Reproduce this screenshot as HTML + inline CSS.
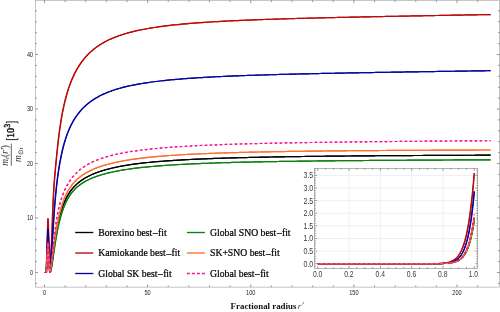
<!DOCTYPE html>
<html><head><meta charset="utf-8"><title>plot</title>
<style>html,body{margin:0;padding:0;background:#fff;}svg{display:block;will-change:transform;}body{font-family:"Liberation Sans",sans-serif;}</style>
</head><body>
<svg width="500" height="312" viewBox="0 0 500 312">
<rect x="0" y="0" width="500" height="312" fill="#ffffff"/>
<g fill="none" stroke-width="1.2" stroke-linejoin="round" stroke-linecap="butt">
<g stroke="#000000"><path d="M44.50,272.50 L46.30,272.50 L47.90,245.50 L48.10,245.50 L49.80,272.50 L49.90,272.50 L50.00,272.47 L50.10,272.34 L50.20,272.15 L50.30,271.90 L50.40,271.60 L50.50,271.26 L50.60,270.87 L50.70,270.45 L50.80,269.98 L50.90,269.49 L51.00,268.97 L51.10,268.42 L51.20,267.84 L51.30,267.25 L51.40,266.63 L51.50,265.99 L51.60,265.34 L51.70,264.68 L51.80,264.00 L51.90,263.31 L52.00,262.61 L52.10,261.90 L52.20,261.19 L52.30,260.46 L52.40,259.74 L52.50,259.00 L52.60,258.27 L52.70,257.53 L52.80,256.78 L52.90,256.04 L53.00,255.30 L53.10,254.55 L53.20,253.81 L53.30,253.07 L53.40,252.32 L53.50,251.58 L53.60,250.85 L53.70,250.11 L53.80,249.38 L53.90,248.65 L54.00,247.92 L54.10,247.20 L54.20,246.49 L54.30,245.77 L54.40,245.06 L54.50,244.36 L54.60,243.66 L54.70,242.97 L54.80,242.28 L54.90,241.60 L55.00,240.93 L55.10,240.26 L55.20,239.59 L55.30,238.93 L55.40,238.28 L55.50,237.64 L55.60,237.00 L55.70,236.36 L55.80,235.74 L55.90,235.12 L56.00,234.51 L56.10,233.90 L56.20,233.30 L56.30,232.71 L56.40,232.12 L56.50,231.54 L56.60,230.97 L56.70,230.41 L56.80,229.85 L56.90,229.30 L57.00,228.75 L57.10,228.21 L57.20,227.68 L57.30,227.16 L57.40,226.64 L57.50,226.13 L57.60,225.63 L57.70,225.13 L57.80,224.64 L57.90,224.16 L58.00,223.68 L58.10,223.21 L58.20,222.74 L58.30,222.28 L58.40,221.83 L58.50,221.38 L58.60,220.93 L58.70,220.49 L58.80,220.06 L58.90,219.63 L59.00,219.21 L59.10,218.79 L59.20,218.38 L59.30,217.97 L59.40,217.57 L59.50,217.17 L59.60,216.78 L59.70,216.39 L59.80,216.01 L59.90,215.63 L60.00,215.25 L60.00,215.25 L60.50,213.44 L61.00,211.72 L61.50,210.10 L62.00,208.56 L62.50,207.10 L63.00,205.71 L63.50,204.39 L64.00,203.14 L64.50,201.95 L65.00,200.81 L65.50,199.73 L66.00,198.69 L66.50,197.70 L67.00,196.76 L67.50,195.86 L68.00,194.99 L68.50,194.16 L69.00,193.36 L69.50,192.59 L70.00,191.86 L70.50,191.15 L71.00,190.47 L71.50,189.81 L72.00,189.18 L72.50,188.56 L73.00,187.97 L73.50,187.40 L74.00,186.85 L74.50,186.32 L75.00,185.80 L75.50,185.30 L76.00,184.82 L76.50,184.35 L77.00,183.90 L77.50,183.45 L78.00,183.03 L78.50,182.61 L79.00,182.20 L79.50,181.81 L80.00,181.43 L80.50,181.05 L81.00,180.69 L81.50,180.34 L82.00,179.99 L82.50,179.66 L83.00,179.33 L83.50,179.01 L84.00,178.70 L84.50,178.39 L85.00,178.09 L85.50,177.80 L86.00,177.52 L86.50,177.24 L87.00,176.97 L87.50,176.70 L88.00,176.44 L88.50,176.19 L89.00,175.93 L89.50,175.69 L90.00,175.45 L90.50,175.21 L91.00,174.98 L91.50,174.75 L92.00,174.53 L92.50,174.31 L93.00,174.10 L93.50,173.89 L94.00,173.68 L94.50,173.48 L95.00,173.28 L95.50,173.08 L96.00,172.89 L96.50,172.70 L97.00,172.51 L97.50,172.33 L98.00,172.15 L98.50,171.97 L99.00,171.80 L99.50,171.63 L100.00,171.46 L100.50,171.29 L101.00,171.13 L101.50,170.97 L102.00,170.81 L102.50,170.65 L103.00,170.50 L103.50,170.35 L104.00,170.20 L104.50,170.06 L105.00,169.91 L105.50,169.77 L106.00,169.63 L106.50,169.49 L107.00,169.36 L107.50,169.22 L108.00,169.09 L108.50,168.96 L109.00,168.83 L109.50,168.71 L110.00,168.58 L110.50,168.46 L111.00,168.34 L111.50,168.22 L112.00,168.10 L112.50,167.99 L113.00,167.87 L113.50,167.76 L114.00,167.65 L114.50,167.54 L115.00,167.43 L115.50,167.32 L116.00,167.22 L116.50,167.11 L117.00,167.01 L117.50,166.91 L118.00,166.81 L118.50,166.71 L119.00,166.61 L119.50,166.51 L120.00,166.42 L122.00,166.05 L124.00,165.70 L126.00,165.36 L128.00,165.04 L130.00,164.74 L132.00,164.45 L134.00,164.17 L136.00,163.90 L138.00,163.65 L140.00,163.40 L142.00,163.17 L144.00,162.94 L146.00,162.72 L148.00,162.52 L150.00,162.32 L152.00,162.12 L154.00,161.94 L156.00,161.76 L158.00,161.59 L160.00,161.42 L162.00,161.26 L164.00,161.10 L166.00,160.95 L168.00,160.81 L170.00,160.67 L172.00,160.53 L174.00,160.40 L176.00,160.28 L178.00,160.15 L180.00,160.04 L182.00,159.92 L184.00,159.81 L186.00,159.70 L188.00,159.60 L190.00,159.49 L192.00,159.39 L194.00,159.30 L196.00,159.21 L198.00,159.12 L200.00,159.03 L202.00,158.94 L204.00,158.86 L206.00,158.78 L208.00,158.70 L210.00,158.62 L212.00,158.55 L214.00,158.47 L216.00,158.40 L218.00,158.34 L220.00,158.27 L222.00,158.20 L224.00,158.14 L226.00,158.08 L228.00,158.02 L230.00,157.96 L232.00,157.90 L234.00,157.84 L236.00,157.79 L238.00,157.73 L240.00,157.68 L242.00,157.63 L244.00,157.58 L246.00,157.53 L248.00,157.48 L250.00,157.44 L252.00,157.39 L254.00,157.35 L256.00,157.30 L258.00,157.26 L260.00,157.22 L262.00,157.18 L264.00,157.14 L266.00,157.10 L268.00,157.06 L270.00,157.02 L272.00,156.99 L274.00,156.95 L276.00,156.92 L278.00,156.88 L280.00,156.85 L282.00,156.81 L284.00,156.78 L286.00,156.75 L288.00,156.72 L290.00,156.69 L292.00,156.66 L294.00,156.63 L296.00,156.60 L298.00,156.57 L300.00,156.54 L302.00,156.52 L304.00,156.49 L306.00,156.46 L308.00,156.44 L310.00,156.41 L312.00,156.39 L314.00,156.36 L316.00,156.34 L318.00,156.31 L320.00,156.29 L322.00,156.27 L324.00,156.25 L326.00,156.22 L328.00,156.20 L330.00,156.18 L332.00,156.16 L334.00,156.14 L336.00,156.12 L338.00,156.10 L340.00,156.08 L342.00,156.06 L344.00,156.04 L346.00,156.02 L348.00,156.00 L350.00,155.99 L352.00,155.97 L354.00,155.95 L356.00,155.93 L358.00,155.92 L360.00,155.90 L362.00,155.88 L364.00,155.87 L366.00,155.85 L368.00,155.83 L370.00,155.82 L372.00,155.80 L374.00,155.79 L376.00,155.77 L378.00,155.76 L380.00,155.74 L382.00,155.73 L384.00,155.72 L386.00,155.70 L388.00,155.69 L390.00,155.67 L392.00,155.66 L394.00,155.65 L396.00,155.63 L398.00,155.62 L400.00,155.61 L402.00,155.60 L404.00,155.58 L406.00,155.57 L408.00,155.56 L410.00,155.55 L412.00,155.54 L414.00,155.52 L416.00,155.51 L418.00,155.50 L420.00,155.49 L422.00,155.48 L424.00,155.47 L426.00,155.46 L428.00,155.45 L430.00,155.44 L432.00,155.43 L434.00,155.41 L436.00,155.40 L438.00,155.39 L440.00,155.38 L442.00,155.37 L444.00,155.36 L446.00,155.35 L448.00,155.34 L450.00,155.34 L452.00,155.33 L454.00,155.32 L456.00,155.31 L458.00,155.30 L460.00,155.29 L462.00,155.28 L464.00,155.27 L466.00,155.26 L468.00,155.25 L470.00,155.24 L472.00,155.24 L474.00,155.23 L476.00,155.22 L478.00,155.21 L480.00,155.20 L482.00,155.19 L484.00,155.19 L486.00,155.18 L488.00,155.17 L490.00,155.16 L490.60,155.16" transform="translate(-0.17,0)"/><path d="M44.50,272.50 L46.30,272.50 L47.90,245.50 L48.10,245.50 L49.80,272.50 L49.90,272.50 L50.00,272.47 L50.10,272.34 L50.20,272.15 L50.30,271.90 L50.40,271.60 L50.50,271.26 L50.60,270.87 L50.70,270.45 L50.80,269.98 L50.90,269.49 L51.00,268.97 L51.10,268.42 L51.20,267.84 L51.30,267.25 L51.40,266.63 L51.50,265.99 L51.60,265.34 L51.70,264.68 L51.80,264.00 L51.90,263.31 L52.00,262.61 L52.10,261.90 L52.20,261.19 L52.30,260.46 L52.40,259.74 L52.50,259.00 L52.60,258.27 L52.70,257.53 L52.80,256.78 L52.90,256.04 L53.00,255.30 L53.10,254.55 L53.20,253.81 L53.30,253.07 L53.40,252.32 L53.50,251.58 L53.60,250.85 L53.70,250.11 L53.80,249.38 L53.90,248.65 L54.00,247.92 L54.10,247.20 L54.20,246.49 L54.30,245.77 L54.40,245.06 L54.50,244.36 L54.60,243.66 L54.70,242.97 L54.80,242.28 L54.90,241.60 L55.00,240.93 L55.10,240.26 L55.20,239.59 L55.30,238.93 L55.40,238.28 L55.50,237.64 L55.60,237.00 L55.70,236.36 L55.80,235.74 L55.90,235.12 L56.00,234.51 L56.10,233.90 L56.20,233.30 L56.30,232.71 L56.40,232.12 L56.50,231.54 L56.60,230.97 L56.70,230.41 L56.80,229.85 L56.90,229.30 L57.00,228.75 L57.10,228.21 L57.20,227.68 L57.30,227.16 L57.40,226.64 L57.50,226.13 L57.60,225.63 L57.70,225.13 L57.80,224.64 L57.90,224.16 L58.00,223.68 L58.10,223.21 L58.20,222.74 L58.30,222.28 L58.40,221.83 L58.50,221.38 L58.60,220.93 L58.70,220.49 L58.80,220.06 L58.90,219.63 L59.00,219.21 L59.10,218.79 L59.20,218.38 L59.30,217.97 L59.40,217.57 L59.50,217.17 L59.60,216.78 L59.70,216.39 L59.80,216.01 L59.90,215.63 L60.00,215.25 L60.00,215.25 L60.50,213.44 L61.00,211.72 L61.50,210.10 L62.00,208.56 L62.50,207.10 L63.00,205.71 L63.50,204.39 L64.00,203.14 L64.50,201.95 L65.00,200.81 L65.50,199.73 L66.00,198.69 L66.50,197.70 L67.00,196.76 L67.50,195.86 L68.00,194.99 L68.50,194.16 L69.00,193.36 L69.50,192.59 L70.00,191.86 L70.50,191.15 L71.00,190.47 L71.50,189.81 L72.00,189.18 L72.50,188.56 L73.00,187.97 L73.50,187.40 L74.00,186.85 L74.50,186.32 L75.00,185.80 L75.50,185.30 L76.00,184.82 L76.50,184.35 L77.00,183.90 L77.50,183.45 L78.00,183.03 L78.50,182.61 L79.00,182.20 L79.50,181.81 L80.00,181.43 L80.50,181.05 L81.00,180.69 L81.50,180.34 L82.00,179.99 L82.50,179.66 L83.00,179.33 L83.50,179.01 L84.00,178.70 L84.50,178.39 L85.00,178.09 L85.50,177.80 L86.00,177.52 L86.50,177.24 L87.00,176.97 L87.50,176.70 L88.00,176.44 L88.50,176.19 L89.00,175.93 L89.50,175.69 L90.00,175.45 L90.50,175.21 L91.00,174.98 L91.50,174.75 L92.00,174.53 L92.50,174.31 L93.00,174.10 L93.50,173.89 L94.00,173.68 L94.50,173.48 L95.00,173.28 L95.50,173.08 L96.00,172.89 L96.50,172.70 L97.00,172.51 L97.50,172.33 L98.00,172.15 L98.50,171.97 L99.00,171.80 L99.50,171.63 L100.00,171.46 L100.50,171.29 L101.00,171.13 L101.50,170.97 L102.00,170.81 L102.50,170.65 L103.00,170.50 L103.50,170.35 L104.00,170.20 L104.50,170.06 L105.00,169.91 L105.50,169.77 L106.00,169.63 L106.50,169.49 L107.00,169.36 L107.50,169.22 L108.00,169.09 L108.50,168.96 L109.00,168.83 L109.50,168.71 L110.00,168.58 L110.50,168.46 L111.00,168.34 L111.50,168.22 L112.00,168.10 L112.50,167.99 L113.00,167.87 L113.50,167.76 L114.00,167.65 L114.50,167.54 L115.00,167.43 L115.50,167.32 L116.00,167.22 L116.50,167.11 L117.00,167.01 L117.50,166.91 L118.00,166.81 L118.50,166.71 L119.00,166.61 L119.50,166.51 L120.00,166.42 L122.00,166.05 L124.00,165.70 L126.00,165.36 L128.00,165.04 L130.00,164.74 L132.00,164.45 L134.00,164.17 L136.00,163.90 L138.00,163.65 L140.00,163.40 L142.00,163.17 L144.00,162.94 L146.00,162.72 L148.00,162.52 L150.00,162.32 L152.00,162.12 L154.00,161.94 L156.00,161.76 L158.00,161.59 L160.00,161.42 L162.00,161.26 L164.00,161.10 L166.00,160.95 L168.00,160.81 L170.00,160.67 L172.00,160.53 L174.00,160.40 L176.00,160.28 L178.00,160.15 L180.00,160.04 L182.00,159.92 L184.00,159.81 L186.00,159.70 L188.00,159.60 L190.00,159.49 L192.00,159.39 L194.00,159.30 L196.00,159.21 L198.00,159.12 L200.00,159.03 L202.00,158.94 L204.00,158.86 L206.00,158.78 L208.00,158.70 L210.00,158.62 L212.00,158.55 L214.00,158.47 L216.00,158.40 L218.00,158.34 L220.00,158.27 L222.00,158.20 L224.00,158.14 L226.00,158.08 L228.00,158.02 L230.00,157.96 L232.00,157.90 L234.00,157.84 L236.00,157.79 L238.00,157.73 L240.00,157.68 L242.00,157.63 L244.00,157.58 L246.00,157.53 L248.00,157.48 L250.00,157.44 L252.00,157.39 L254.00,157.35 L256.00,157.30 L258.00,157.26 L260.00,157.22 L262.00,157.18 L264.00,157.14 L266.00,157.10 L268.00,157.06 L270.00,157.02 L272.00,156.99 L274.00,156.95 L276.00,156.92 L278.00,156.88 L280.00,156.85 L282.00,156.81 L284.00,156.78 L286.00,156.75 L288.00,156.72 L290.00,156.69 L292.00,156.66 L294.00,156.63 L296.00,156.60 L298.00,156.57 L300.00,156.54 L302.00,156.52 L304.00,156.49 L306.00,156.46 L308.00,156.44 L310.00,156.41 L312.00,156.39 L314.00,156.36 L316.00,156.34 L318.00,156.31 L320.00,156.29 L322.00,156.27 L324.00,156.25 L326.00,156.22 L328.00,156.20 L330.00,156.18 L332.00,156.16 L334.00,156.14 L336.00,156.12 L338.00,156.10 L340.00,156.08 L342.00,156.06 L344.00,156.04 L346.00,156.02 L348.00,156.00 L350.00,155.99 L352.00,155.97 L354.00,155.95 L356.00,155.93 L358.00,155.92 L360.00,155.90 L362.00,155.88 L364.00,155.87 L366.00,155.85 L368.00,155.83 L370.00,155.82 L372.00,155.80 L374.00,155.79 L376.00,155.77 L378.00,155.76 L380.00,155.74 L382.00,155.73 L384.00,155.72 L386.00,155.70 L388.00,155.69 L390.00,155.67 L392.00,155.66 L394.00,155.65 L396.00,155.63 L398.00,155.62 L400.00,155.61 L402.00,155.60 L404.00,155.58 L406.00,155.57 L408.00,155.56 L410.00,155.55 L412.00,155.54 L414.00,155.52 L416.00,155.51 L418.00,155.50 L420.00,155.49 L422.00,155.48 L424.00,155.47 L426.00,155.46 L428.00,155.45 L430.00,155.44 L432.00,155.43 L434.00,155.41 L436.00,155.40 L438.00,155.39 L440.00,155.38 L442.00,155.37 L444.00,155.36 L446.00,155.35 L448.00,155.34 L450.00,155.34 L452.00,155.33 L454.00,155.32 L456.00,155.31 L458.00,155.30 L460.00,155.29 L462.00,155.28 L464.00,155.27 L466.00,155.26 L468.00,155.25 L470.00,155.24 L472.00,155.24 L474.00,155.23 L476.00,155.22 L478.00,155.21 L480.00,155.20 L482.00,155.19 L484.00,155.19 L486.00,155.18 L488.00,155.17 L490.00,155.16 L490.60,155.16" transform="translate(0.17,0)"/></g>
<g stroke="#bc0a0a"><path d="M44.50,272.50 L46.30,272.50 L47.90,218.80 L48.10,218.80 L49.80,272.50 L49.90,270.17 L50.00,267.98 L50.10,265.90 L50.20,263.95 L50.30,262.09 L50.40,260.34 L50.50,258.67 L50.60,257.08 L50.70,255.56 L50.80,254.10 L50.90,252.71 L51.00,251.37 L51.10,250.03 L51.20,248.65 L51.30,247.19 L51.40,245.61 L51.50,243.89 L51.60,241.98 L51.70,239.87 L51.80,237.53 L51.90,234.95 L52.00,232.19 L52.10,229.29 L52.20,226.32 L52.30,223.32 L52.40,220.35 L52.50,217.44 L52.60,214.63 L52.70,211.95 L52.80,209.39 L52.90,206.97 L53.00,204.65 L53.10,202.44 L53.20,200.33 L53.30,198.31 L53.40,196.38 L53.50,194.53 L53.60,192.75 L53.70,191.04 L53.80,189.40 L53.90,187.82 L54.00,186.30 L54.10,184.82 L54.20,183.40 L54.30,182.02 L54.40,180.68 L54.50,179.38 L54.60,178.11 L54.70,176.87 L54.80,175.66 L54.90,174.48 L55.00,173.32 L55.10,172.19 L55.20,171.07 L55.30,169.97 L55.40,168.88 L55.50,167.81 L55.60,166.74 L55.70,165.69 L55.80,164.64 L55.90,163.60 L56.00,162.57 L56.10,161.54 L56.20,160.51 L56.30,159.48 L56.40,158.47 L56.50,157.45 L56.60,156.44 L56.70,155.44 L56.80,154.45 L56.90,153.46 L57.00,152.48 L57.10,151.51 L57.20,150.54 L57.30,149.58 L57.40,148.64 L57.50,147.70 L57.60,146.77 L57.70,145.84 L57.80,144.93 L57.90,144.03 L58.00,143.14 L58.10,142.26 L58.20,141.39 L58.30,140.52 L58.40,139.67 L58.50,138.83 L58.60,138.00 L58.70,137.19 L58.80,136.38 L58.90,135.58 L59.00,134.79 L59.10,134.02 L59.20,133.25 L59.30,132.49 L59.40,131.75 L59.50,131.01 L59.60,130.28 L59.70,129.56 L59.80,128.85 L59.90,128.15 L60.00,127.45 L60.00,127.45 L60.50,124.11 L61.00,120.95 L61.50,117.97 L62.00,115.15 L62.50,112.48 L63.00,109.95 L63.50,107.54 L64.00,105.24 L64.50,103.06 L65.00,100.97 L65.50,98.98 L66.00,97.08 L66.50,95.25 L67.00,93.51 L67.50,91.83 L68.00,90.22 L68.50,88.67 L69.00,87.18 L69.50,85.75 L70.00,84.37 L70.50,83.04 L71.00,81.75 L71.50,80.51 L72.00,79.31 L72.50,78.15 L73.00,77.02 L73.50,75.93 L74.00,74.87 L74.50,73.85 L75.00,72.85 L75.50,71.89 L76.00,70.95 L76.50,70.04 L77.00,69.15 L77.50,68.29 L78.00,67.45 L78.50,66.64 L79.00,65.84 L79.50,65.07 L80.00,64.31 L80.50,63.58 L81.00,62.86 L81.50,62.16 L82.00,61.48 L82.50,60.82 L83.00,60.17 L83.50,59.54 L84.00,58.92 L84.50,58.31 L85.00,57.72 L85.50,57.15 L86.00,56.58 L86.50,56.03 L87.00,55.49 L87.50,54.97 L88.00,54.45 L88.50,53.95 L89.00,53.45 L89.50,52.97 L90.00,52.50 L90.50,52.03 L91.00,51.58 L91.50,51.14 L92.00,50.70 L92.50,50.27 L93.00,49.85 L93.50,49.44 L94.00,49.04 L94.50,48.65 L95.00,48.26 L95.50,47.88 L96.00,47.51 L96.50,47.14 L97.00,46.78 L97.50,46.43 L98.00,46.09 L98.50,45.75 L99.00,45.41 L99.50,45.09 L100.00,44.76 L100.50,44.45 L101.00,44.14 L101.50,43.83 L102.00,43.53 L102.50,43.24 L103.00,42.95 L103.50,42.66 L104.00,42.38 L104.50,42.11 L105.00,41.84 L105.50,41.57 L106.00,41.31 L106.50,41.05 L107.00,40.80 L107.50,40.55 L108.00,40.30 L108.50,40.06 L109.00,39.82 L109.50,39.58 L110.00,39.35 L110.50,39.13 L111.00,38.90 L111.50,38.68 L112.00,38.46 L112.50,38.25 L113.00,38.04 L113.50,37.83 L114.00,37.63 L114.50,37.43 L115.00,37.23 L115.50,37.03 L116.00,36.84 L116.50,36.65 L117.00,36.46 L117.50,36.28 L118.00,36.09 L118.50,35.91 L119.00,35.74 L119.50,35.56 L120.00,35.39 L122.00,34.72 L124.00,34.09 L126.00,33.49 L128.00,32.92 L130.00,32.38 L132.00,31.87 L134.00,31.37 L136.00,30.91 L138.00,30.46 L140.00,30.03 L142.00,29.63 L144.00,29.24 L146.00,28.86 L148.00,28.51 L150.00,28.16 L152.00,27.83 L154.00,27.52 L156.00,27.22 L158.00,26.92 L160.00,26.64 L162.00,26.37 L164.00,26.11 L166.00,25.86 L168.00,25.62 L170.00,25.39 L172.00,25.16 L174.00,24.95 L176.00,24.74 L178.00,24.53 L180.00,24.34 L182.00,24.15 L184.00,23.96 L186.00,23.78 L188.00,23.61 L190.00,23.44 L192.00,23.28 L194.00,23.12 L196.00,22.97 L198.00,22.82 L200.00,22.68 L202.00,22.54 L204.00,22.40 L206.00,22.27 L208.00,22.14 L210.00,22.01 L212.00,21.89 L214.00,21.77 L216.00,21.65 L218.00,21.54 L220.00,21.43 L222.00,21.32 L224.00,21.21 L226.00,21.11 L228.00,21.01 L230.00,20.91 L232.00,20.81 L234.00,20.72 L236.00,20.63 L238.00,20.54 L240.00,20.45 L242.00,20.36 L244.00,20.28 L246.00,20.19 L248.00,20.11 L250.00,20.03 L252.00,19.95 L254.00,19.88 L256.00,19.80 L258.00,19.73 L260.00,19.65 L262.00,19.58 L264.00,19.51 L266.00,19.44 L268.00,19.37 L270.00,19.31 L272.00,19.24 L274.00,19.18 L276.00,19.11 L278.00,19.05 L280.00,18.99 L282.00,18.93 L284.00,18.86 L286.00,18.81 L288.00,18.75 L290.00,18.69 L292.00,18.63 L294.00,18.57 L296.00,18.52 L298.00,18.46 L300.00,18.41 L302.00,18.35 L304.00,18.30 L306.00,18.25 L308.00,18.20 L310.00,18.15 L312.00,18.09 L314.00,18.04 L316.00,17.99 L318.00,17.94 L320.00,17.90 L322.00,17.85 L324.00,17.80 L326.00,17.75 L328.00,17.70 L330.00,17.66 L332.00,17.61 L334.00,17.56 L336.00,17.52 L338.00,17.47 L340.00,17.43 L342.00,17.38 L344.00,17.34 L346.00,17.30 L348.00,17.25 L350.00,17.21 L352.00,17.16 L354.00,17.12 L356.00,17.08 L358.00,17.04 L360.00,16.99 L362.00,16.95 L364.00,16.91 L366.00,16.87 L368.00,16.83 L370.00,16.79 L372.00,16.75 L374.00,16.71 L376.00,16.67 L378.00,16.63 L380.00,16.59 L382.00,16.55 L384.00,16.51 L386.00,16.47 L388.00,16.43 L390.00,16.39 L392.00,16.35 L394.00,16.31 L396.00,16.27 L398.00,16.23 L400.00,16.19 L402.00,16.16 L404.00,16.12 L406.00,16.08 L408.00,16.04 L410.00,16.00 L412.00,15.97 L414.00,15.93 L416.00,15.89 L418.00,15.85 L420.00,15.81 L422.00,15.78 L424.00,15.74 L426.00,15.70 L428.00,15.67 L430.00,15.63 L432.00,15.59 L434.00,15.55 L436.00,15.52 L438.00,15.48 L440.00,15.44 L442.00,15.41 L444.00,15.37 L446.00,15.33 L448.00,15.30 L450.00,15.26 L452.00,15.22 L454.00,15.19 L456.00,15.15 L458.00,15.11 L460.00,15.08 L462.00,15.04 L464.00,15.01 L466.00,14.97 L468.00,14.93 L470.00,14.90 L472.00,14.86 L474.00,14.83 L476.00,14.79 L478.00,14.75 L480.00,14.72 L482.00,14.68 L484.00,14.64 L486.00,14.61 L488.00,14.57 L490.00,14.54 L490.60,14.53" transform="translate(-0.17,0)"/><path d="M44.50,272.50 L46.30,272.50 L47.90,218.80 L48.10,218.80 L49.80,272.50 L49.90,270.17 L50.00,267.98 L50.10,265.90 L50.20,263.95 L50.30,262.09 L50.40,260.34 L50.50,258.67 L50.60,257.08 L50.70,255.56 L50.80,254.10 L50.90,252.71 L51.00,251.37 L51.10,250.03 L51.20,248.65 L51.30,247.19 L51.40,245.61 L51.50,243.89 L51.60,241.98 L51.70,239.87 L51.80,237.53 L51.90,234.95 L52.00,232.19 L52.10,229.29 L52.20,226.32 L52.30,223.32 L52.40,220.35 L52.50,217.44 L52.60,214.63 L52.70,211.95 L52.80,209.39 L52.90,206.97 L53.00,204.65 L53.10,202.44 L53.20,200.33 L53.30,198.31 L53.40,196.38 L53.50,194.53 L53.60,192.75 L53.70,191.04 L53.80,189.40 L53.90,187.82 L54.00,186.30 L54.10,184.82 L54.20,183.40 L54.30,182.02 L54.40,180.68 L54.50,179.38 L54.60,178.11 L54.70,176.87 L54.80,175.66 L54.90,174.48 L55.00,173.32 L55.10,172.19 L55.20,171.07 L55.30,169.97 L55.40,168.88 L55.50,167.81 L55.60,166.74 L55.70,165.69 L55.80,164.64 L55.90,163.60 L56.00,162.57 L56.10,161.54 L56.20,160.51 L56.30,159.48 L56.40,158.47 L56.50,157.45 L56.60,156.44 L56.70,155.44 L56.80,154.45 L56.90,153.46 L57.00,152.48 L57.10,151.51 L57.20,150.54 L57.30,149.58 L57.40,148.64 L57.50,147.70 L57.60,146.77 L57.70,145.84 L57.80,144.93 L57.90,144.03 L58.00,143.14 L58.10,142.26 L58.20,141.39 L58.30,140.52 L58.40,139.67 L58.50,138.83 L58.60,138.00 L58.70,137.19 L58.80,136.38 L58.90,135.58 L59.00,134.79 L59.10,134.02 L59.20,133.25 L59.30,132.49 L59.40,131.75 L59.50,131.01 L59.60,130.28 L59.70,129.56 L59.80,128.85 L59.90,128.15 L60.00,127.45 L60.00,127.45 L60.50,124.11 L61.00,120.95 L61.50,117.97 L62.00,115.15 L62.50,112.48 L63.00,109.95 L63.50,107.54 L64.00,105.24 L64.50,103.06 L65.00,100.97 L65.50,98.98 L66.00,97.08 L66.50,95.25 L67.00,93.51 L67.50,91.83 L68.00,90.22 L68.50,88.67 L69.00,87.18 L69.50,85.75 L70.00,84.37 L70.50,83.04 L71.00,81.75 L71.50,80.51 L72.00,79.31 L72.50,78.15 L73.00,77.02 L73.50,75.93 L74.00,74.87 L74.50,73.85 L75.00,72.85 L75.50,71.89 L76.00,70.95 L76.50,70.04 L77.00,69.15 L77.50,68.29 L78.00,67.45 L78.50,66.64 L79.00,65.84 L79.50,65.07 L80.00,64.31 L80.50,63.58 L81.00,62.86 L81.50,62.16 L82.00,61.48 L82.50,60.82 L83.00,60.17 L83.50,59.54 L84.00,58.92 L84.50,58.31 L85.00,57.72 L85.50,57.15 L86.00,56.58 L86.50,56.03 L87.00,55.49 L87.50,54.97 L88.00,54.45 L88.50,53.95 L89.00,53.45 L89.50,52.97 L90.00,52.50 L90.50,52.03 L91.00,51.58 L91.50,51.14 L92.00,50.70 L92.50,50.27 L93.00,49.85 L93.50,49.44 L94.00,49.04 L94.50,48.65 L95.00,48.26 L95.50,47.88 L96.00,47.51 L96.50,47.14 L97.00,46.78 L97.50,46.43 L98.00,46.09 L98.50,45.75 L99.00,45.41 L99.50,45.09 L100.00,44.76 L100.50,44.45 L101.00,44.14 L101.50,43.83 L102.00,43.53 L102.50,43.24 L103.00,42.95 L103.50,42.66 L104.00,42.38 L104.50,42.11 L105.00,41.84 L105.50,41.57 L106.00,41.31 L106.50,41.05 L107.00,40.80 L107.50,40.55 L108.00,40.30 L108.50,40.06 L109.00,39.82 L109.50,39.58 L110.00,39.35 L110.50,39.13 L111.00,38.90 L111.50,38.68 L112.00,38.46 L112.50,38.25 L113.00,38.04 L113.50,37.83 L114.00,37.63 L114.50,37.43 L115.00,37.23 L115.50,37.03 L116.00,36.84 L116.50,36.65 L117.00,36.46 L117.50,36.28 L118.00,36.09 L118.50,35.91 L119.00,35.74 L119.50,35.56 L120.00,35.39 L122.00,34.72 L124.00,34.09 L126.00,33.49 L128.00,32.92 L130.00,32.38 L132.00,31.87 L134.00,31.37 L136.00,30.91 L138.00,30.46 L140.00,30.03 L142.00,29.63 L144.00,29.24 L146.00,28.86 L148.00,28.51 L150.00,28.16 L152.00,27.83 L154.00,27.52 L156.00,27.22 L158.00,26.92 L160.00,26.64 L162.00,26.37 L164.00,26.11 L166.00,25.86 L168.00,25.62 L170.00,25.39 L172.00,25.16 L174.00,24.95 L176.00,24.74 L178.00,24.53 L180.00,24.34 L182.00,24.15 L184.00,23.96 L186.00,23.78 L188.00,23.61 L190.00,23.44 L192.00,23.28 L194.00,23.12 L196.00,22.97 L198.00,22.82 L200.00,22.68 L202.00,22.54 L204.00,22.40 L206.00,22.27 L208.00,22.14 L210.00,22.01 L212.00,21.89 L214.00,21.77 L216.00,21.65 L218.00,21.54 L220.00,21.43 L222.00,21.32 L224.00,21.21 L226.00,21.11 L228.00,21.01 L230.00,20.91 L232.00,20.81 L234.00,20.72 L236.00,20.63 L238.00,20.54 L240.00,20.45 L242.00,20.36 L244.00,20.28 L246.00,20.19 L248.00,20.11 L250.00,20.03 L252.00,19.95 L254.00,19.88 L256.00,19.80 L258.00,19.73 L260.00,19.65 L262.00,19.58 L264.00,19.51 L266.00,19.44 L268.00,19.37 L270.00,19.31 L272.00,19.24 L274.00,19.18 L276.00,19.11 L278.00,19.05 L280.00,18.99 L282.00,18.93 L284.00,18.86 L286.00,18.81 L288.00,18.75 L290.00,18.69 L292.00,18.63 L294.00,18.57 L296.00,18.52 L298.00,18.46 L300.00,18.41 L302.00,18.35 L304.00,18.30 L306.00,18.25 L308.00,18.20 L310.00,18.15 L312.00,18.09 L314.00,18.04 L316.00,17.99 L318.00,17.94 L320.00,17.90 L322.00,17.85 L324.00,17.80 L326.00,17.75 L328.00,17.70 L330.00,17.66 L332.00,17.61 L334.00,17.56 L336.00,17.52 L338.00,17.47 L340.00,17.43 L342.00,17.38 L344.00,17.34 L346.00,17.30 L348.00,17.25 L350.00,17.21 L352.00,17.16 L354.00,17.12 L356.00,17.08 L358.00,17.04 L360.00,16.99 L362.00,16.95 L364.00,16.91 L366.00,16.87 L368.00,16.83 L370.00,16.79 L372.00,16.75 L374.00,16.71 L376.00,16.67 L378.00,16.63 L380.00,16.59 L382.00,16.55 L384.00,16.51 L386.00,16.47 L388.00,16.43 L390.00,16.39 L392.00,16.35 L394.00,16.31 L396.00,16.27 L398.00,16.23 L400.00,16.19 L402.00,16.16 L404.00,16.12 L406.00,16.08 L408.00,16.04 L410.00,16.00 L412.00,15.97 L414.00,15.93 L416.00,15.89 L418.00,15.85 L420.00,15.81 L422.00,15.78 L424.00,15.74 L426.00,15.70 L428.00,15.67 L430.00,15.63 L432.00,15.59 L434.00,15.55 L436.00,15.52 L438.00,15.48 L440.00,15.44 L442.00,15.41 L444.00,15.37 L446.00,15.33 L448.00,15.30 L450.00,15.26 L452.00,15.22 L454.00,15.19 L456.00,15.15 L458.00,15.11 L460.00,15.08 L462.00,15.04 L464.00,15.01 L466.00,14.97 L468.00,14.93 L470.00,14.90 L472.00,14.86 L474.00,14.83 L476.00,14.79 L478.00,14.75 L480.00,14.72 L482.00,14.68 L484.00,14.64 L486.00,14.61 L488.00,14.57 L490.00,14.54 L490.60,14.53" transform="translate(0.17,0)"/></g>
<g stroke="#06069e"><path d="M44.50,272.50 L46.30,272.50 L47.90,229.00 L48.10,229.00 L49.80,272.50 L49.90,271.13 L50.00,269.81 L50.10,268.55 L50.20,267.33 L50.30,266.14 L50.40,264.98 L50.50,263.83 L50.60,262.70 L50.70,261.57 L50.80,260.45 L50.90,259.32 L51.00,258.19 L51.10,257.05 L51.20,255.90 L51.30,254.73 L51.40,253.54 L51.50,252.34 L51.60,251.11 L51.70,249.85 L51.80,248.58 L51.90,247.27 L52.00,245.94 L52.10,244.57 L52.20,243.18 L52.30,241.75 L52.40,240.29 L52.50,238.80 L52.60,237.28 L52.70,235.72 L52.80,234.14 L52.90,232.54 L53.00,230.93 L53.10,229.31 L53.20,227.68 L53.30,226.07 L53.40,224.46 L53.50,222.87 L53.60,221.29 L53.70,219.74 L53.80,218.21 L53.90,216.71 L54.00,215.24 L54.10,213.81 L54.20,212.40 L54.30,211.02 L54.40,209.68 L54.50,208.35 L54.60,207.06 L54.70,205.79 L54.80,204.55 L54.90,203.33 L55.00,202.13 L55.10,200.96 L55.20,199.81 L55.30,198.68 L55.40,197.58 L55.50,196.49 L55.60,195.42 L55.70,194.37 L55.80,193.34 L55.90,192.33 L56.00,191.34 L56.10,190.36 L56.20,189.40 L56.30,188.46 L56.40,187.53 L56.50,186.62 L56.60,185.72 L56.70,184.84 L56.80,183.97 L56.90,183.12 L57.00,182.27 L57.10,181.45 L57.20,180.63 L57.30,179.83 L57.40,179.04 L57.50,178.26 L57.60,177.50 L57.70,176.74 L57.80,176.00 L57.90,175.26 L58.00,174.54 L58.10,173.83 L58.20,173.13 L58.30,172.44 L58.40,171.75 L58.50,171.08 L58.60,170.42 L58.70,169.76 L58.80,169.12 L58.90,168.48 L59.00,167.85 L59.10,167.23 L59.20,166.62 L59.30,166.01 L59.40,165.41 L59.50,164.82 L59.60,164.24 L59.70,163.67 L59.80,163.10 L59.90,162.54 L60.00,161.98 L60.00,161.98 L60.50,159.31 L61.00,156.78 L61.50,154.39 L62.00,152.13 L62.50,149.99 L63.00,147.96 L63.50,146.02 L64.00,144.18 L64.50,142.43 L65.00,140.75 L65.50,139.15 L66.00,137.62 L66.50,136.16 L67.00,134.75 L67.50,133.41 L68.00,132.11 L68.50,130.87 L69.00,129.68 L69.50,128.53 L70.00,127.42 L70.50,126.35 L71.00,125.32 L71.50,124.32 L72.00,123.36 L72.50,122.44 L73.00,121.54 L73.50,120.67 L74.00,119.82 L74.50,119.01 L75.00,118.22 L75.50,117.45 L76.00,116.70 L76.50,115.98 L77.00,115.27 L77.50,114.59 L78.00,113.92 L78.50,113.28 L79.00,112.65 L79.50,112.03 L80.00,111.43 L80.50,110.85 L81.00,110.28 L81.50,109.72 L82.00,109.18 L82.50,108.65 L83.00,108.14 L83.50,107.63 L84.00,107.14 L84.50,106.66 L85.00,106.19 L85.50,105.73 L86.00,105.28 L86.50,104.84 L87.00,104.41 L87.50,103.99 L88.00,103.58 L88.50,103.17 L89.00,102.78 L89.50,102.39 L90.00,102.01 L90.50,101.64 L91.00,101.28 L91.50,100.92 L92.00,100.57 L92.50,100.23 L93.00,99.90 L93.50,99.57 L94.00,99.24 L94.50,98.93 L95.00,98.62 L95.50,98.31 L96.00,98.01 L96.50,97.72 L97.00,97.43 L97.50,97.15 L98.00,96.87 L98.50,96.60 L99.00,96.33 L99.50,96.07 L100.00,95.81 L100.50,95.55 L101.00,95.30 L101.50,95.06 L102.00,94.81 L102.50,94.58 L103.00,94.34 L103.50,94.11 L104.00,93.89 L104.50,93.66 L105.00,93.44 L105.50,93.23 L106.00,93.02 L106.50,92.81 L107.00,92.60 L107.50,92.40 L108.00,92.20 L108.50,92.01 L109.00,91.81 L109.50,91.62 L110.00,91.44 L110.50,91.25 L111.00,91.07 L111.50,90.89 L112.00,90.72 L112.50,90.54 L113.00,90.37 L113.50,90.20 L114.00,90.04 L114.50,89.87 L115.00,89.71 L115.50,89.55 L116.00,89.39 L116.50,89.24 L117.00,89.09 L117.50,88.94 L118.00,88.79 L118.50,88.64 L119.00,88.50 L119.50,88.35 L120.00,88.21 L122.00,87.67 L124.00,87.15 L126.00,86.66 L128.00,86.19 L130.00,85.75 L132.00,85.33 L134.00,84.92 L136.00,84.54 L138.00,84.17 L140.00,83.82 L142.00,83.48 L144.00,83.16 L146.00,82.85 L148.00,82.55 L150.00,82.27 L152.00,81.99 L154.00,81.73 L156.00,81.48 L158.00,81.24 L160.00,81.00 L162.00,80.77 L164.00,80.56 L166.00,80.35 L168.00,80.14 L170.00,79.95 L172.00,79.76 L174.00,79.58 L176.00,79.40 L178.00,79.23 L180.00,79.06 L182.00,78.90 L184.00,78.74 L186.00,78.59 L188.00,78.45 L190.00,78.30 L192.00,78.17 L194.00,78.03 L196.00,77.90 L198.00,77.77 L200.00,77.65 L202.00,77.53 L204.00,77.41 L206.00,77.30 L208.00,77.19 L210.00,77.08 L212.00,76.98 L214.00,76.87 L216.00,76.77 L218.00,76.68 L220.00,76.58 L222.00,76.49 L224.00,76.40 L226.00,76.31 L228.00,76.22 L230.00,76.13 L232.00,76.05 L234.00,75.97 L236.00,75.89 L238.00,75.81 L240.00,75.73 L242.00,75.66 L244.00,75.59 L246.00,75.51 L248.00,75.44 L250.00,75.37 L252.00,75.30 L254.00,75.24 L256.00,75.17 L258.00,75.11 L260.00,75.04 L262.00,74.98 L264.00,74.92 L266.00,74.86 L268.00,74.80 L270.00,74.74 L272.00,74.68 L274.00,74.63 L276.00,74.57 L278.00,74.52 L280.00,74.46 L282.00,74.41 L284.00,74.36 L286.00,74.30 L288.00,74.25 L290.00,74.20 L292.00,74.15 L294.00,74.10 L296.00,74.06 L298.00,74.01 L300.00,73.96 L302.00,73.91 L304.00,73.87 L306.00,73.82 L308.00,73.78 L310.00,73.73 L312.00,73.69 L314.00,73.64 L316.00,73.60 L318.00,73.56 L320.00,73.52 L322.00,73.47 L324.00,73.43 L326.00,73.39 L328.00,73.35 L330.00,73.31 L332.00,73.27 L334.00,73.23 L336.00,73.19 L338.00,73.15 L340.00,73.11 L342.00,73.07 L344.00,73.04 L346.00,73.00 L348.00,72.96 L350.00,72.92 L352.00,72.89 L354.00,72.85 L356.00,72.81 L358.00,72.78 L360.00,72.74 L362.00,72.70 L364.00,72.67 L366.00,72.63 L368.00,72.60 L370.00,72.56 L372.00,72.53 L374.00,72.49 L376.00,72.46 L378.00,72.43 L380.00,72.39 L382.00,72.36 L384.00,72.33 L386.00,72.29 L388.00,72.26 L390.00,72.23 L392.00,72.19 L394.00,72.16 L396.00,72.13 L398.00,72.09 L400.00,72.06 L402.00,72.03 L404.00,72.00 L406.00,71.97 L408.00,71.93 L410.00,71.90 L412.00,71.87 L414.00,71.84 L416.00,71.81 L418.00,71.78 L420.00,71.74 L422.00,71.71 L424.00,71.68 L426.00,71.65 L428.00,71.62 L430.00,71.59 L432.00,71.56 L434.00,71.53 L436.00,71.50 L438.00,71.47 L440.00,71.44 L442.00,71.41 L444.00,71.38 L446.00,71.35 L448.00,71.32 L450.00,71.29 L452.00,71.26 L454.00,71.23 L456.00,71.20 L458.00,71.17 L460.00,71.14 L462.00,71.11 L464.00,71.08 L466.00,71.05 L468.00,71.02 L470.00,70.99 L472.00,70.96 L474.00,70.93 L476.00,70.90 L478.00,70.87 L480.00,70.84 L482.00,70.81 L484.00,70.78 L486.00,70.75 L488.00,70.72 L490.00,70.70 L490.60,70.69" transform="translate(-0.17,0)"/><path d="M44.50,272.50 L46.30,272.50 L47.90,229.00 L48.10,229.00 L49.80,272.50 L49.90,271.13 L50.00,269.81 L50.10,268.55 L50.20,267.33 L50.30,266.14 L50.40,264.98 L50.50,263.83 L50.60,262.70 L50.70,261.57 L50.80,260.45 L50.90,259.32 L51.00,258.19 L51.10,257.05 L51.20,255.90 L51.30,254.73 L51.40,253.54 L51.50,252.34 L51.60,251.11 L51.70,249.85 L51.80,248.58 L51.90,247.27 L52.00,245.94 L52.10,244.57 L52.20,243.18 L52.30,241.75 L52.40,240.29 L52.50,238.80 L52.60,237.28 L52.70,235.72 L52.80,234.14 L52.90,232.54 L53.00,230.93 L53.10,229.31 L53.20,227.68 L53.30,226.07 L53.40,224.46 L53.50,222.87 L53.60,221.29 L53.70,219.74 L53.80,218.21 L53.90,216.71 L54.00,215.24 L54.10,213.81 L54.20,212.40 L54.30,211.02 L54.40,209.68 L54.50,208.35 L54.60,207.06 L54.70,205.79 L54.80,204.55 L54.90,203.33 L55.00,202.13 L55.10,200.96 L55.20,199.81 L55.30,198.68 L55.40,197.58 L55.50,196.49 L55.60,195.42 L55.70,194.37 L55.80,193.34 L55.90,192.33 L56.00,191.34 L56.10,190.36 L56.20,189.40 L56.30,188.46 L56.40,187.53 L56.50,186.62 L56.60,185.72 L56.70,184.84 L56.80,183.97 L56.90,183.12 L57.00,182.27 L57.10,181.45 L57.20,180.63 L57.30,179.83 L57.40,179.04 L57.50,178.26 L57.60,177.50 L57.70,176.74 L57.80,176.00 L57.90,175.26 L58.00,174.54 L58.10,173.83 L58.20,173.13 L58.30,172.44 L58.40,171.75 L58.50,171.08 L58.60,170.42 L58.70,169.76 L58.80,169.12 L58.90,168.48 L59.00,167.85 L59.10,167.23 L59.20,166.62 L59.30,166.01 L59.40,165.41 L59.50,164.82 L59.60,164.24 L59.70,163.67 L59.80,163.10 L59.90,162.54 L60.00,161.98 L60.00,161.98 L60.50,159.31 L61.00,156.78 L61.50,154.39 L62.00,152.13 L62.50,149.99 L63.00,147.96 L63.50,146.02 L64.00,144.18 L64.50,142.43 L65.00,140.75 L65.50,139.15 L66.00,137.62 L66.50,136.16 L67.00,134.75 L67.50,133.41 L68.00,132.11 L68.50,130.87 L69.00,129.68 L69.50,128.53 L70.00,127.42 L70.50,126.35 L71.00,125.32 L71.50,124.32 L72.00,123.36 L72.50,122.44 L73.00,121.54 L73.50,120.67 L74.00,119.82 L74.50,119.01 L75.00,118.22 L75.50,117.45 L76.00,116.70 L76.50,115.98 L77.00,115.27 L77.50,114.59 L78.00,113.92 L78.50,113.28 L79.00,112.65 L79.50,112.03 L80.00,111.43 L80.50,110.85 L81.00,110.28 L81.50,109.72 L82.00,109.18 L82.50,108.65 L83.00,108.14 L83.50,107.63 L84.00,107.14 L84.50,106.66 L85.00,106.19 L85.50,105.73 L86.00,105.28 L86.50,104.84 L87.00,104.41 L87.50,103.99 L88.00,103.58 L88.50,103.17 L89.00,102.78 L89.50,102.39 L90.00,102.01 L90.50,101.64 L91.00,101.28 L91.50,100.92 L92.00,100.57 L92.50,100.23 L93.00,99.90 L93.50,99.57 L94.00,99.24 L94.50,98.93 L95.00,98.62 L95.50,98.31 L96.00,98.01 L96.50,97.72 L97.00,97.43 L97.50,97.15 L98.00,96.87 L98.50,96.60 L99.00,96.33 L99.50,96.07 L100.00,95.81 L100.50,95.55 L101.00,95.30 L101.50,95.06 L102.00,94.81 L102.50,94.58 L103.00,94.34 L103.50,94.11 L104.00,93.89 L104.50,93.66 L105.00,93.44 L105.50,93.23 L106.00,93.02 L106.50,92.81 L107.00,92.60 L107.50,92.40 L108.00,92.20 L108.50,92.01 L109.00,91.81 L109.50,91.62 L110.00,91.44 L110.50,91.25 L111.00,91.07 L111.50,90.89 L112.00,90.72 L112.50,90.54 L113.00,90.37 L113.50,90.20 L114.00,90.04 L114.50,89.87 L115.00,89.71 L115.50,89.55 L116.00,89.39 L116.50,89.24 L117.00,89.09 L117.50,88.94 L118.00,88.79 L118.50,88.64 L119.00,88.50 L119.50,88.35 L120.00,88.21 L122.00,87.67 L124.00,87.15 L126.00,86.66 L128.00,86.19 L130.00,85.75 L132.00,85.33 L134.00,84.92 L136.00,84.54 L138.00,84.17 L140.00,83.82 L142.00,83.48 L144.00,83.16 L146.00,82.85 L148.00,82.55 L150.00,82.27 L152.00,81.99 L154.00,81.73 L156.00,81.48 L158.00,81.24 L160.00,81.00 L162.00,80.77 L164.00,80.56 L166.00,80.35 L168.00,80.14 L170.00,79.95 L172.00,79.76 L174.00,79.58 L176.00,79.40 L178.00,79.23 L180.00,79.06 L182.00,78.90 L184.00,78.74 L186.00,78.59 L188.00,78.45 L190.00,78.30 L192.00,78.17 L194.00,78.03 L196.00,77.90 L198.00,77.77 L200.00,77.65 L202.00,77.53 L204.00,77.41 L206.00,77.30 L208.00,77.19 L210.00,77.08 L212.00,76.98 L214.00,76.87 L216.00,76.77 L218.00,76.68 L220.00,76.58 L222.00,76.49 L224.00,76.40 L226.00,76.31 L228.00,76.22 L230.00,76.13 L232.00,76.05 L234.00,75.97 L236.00,75.89 L238.00,75.81 L240.00,75.73 L242.00,75.66 L244.00,75.59 L246.00,75.51 L248.00,75.44 L250.00,75.37 L252.00,75.30 L254.00,75.24 L256.00,75.17 L258.00,75.11 L260.00,75.04 L262.00,74.98 L264.00,74.92 L266.00,74.86 L268.00,74.80 L270.00,74.74 L272.00,74.68 L274.00,74.63 L276.00,74.57 L278.00,74.52 L280.00,74.46 L282.00,74.41 L284.00,74.36 L286.00,74.30 L288.00,74.25 L290.00,74.20 L292.00,74.15 L294.00,74.10 L296.00,74.06 L298.00,74.01 L300.00,73.96 L302.00,73.91 L304.00,73.87 L306.00,73.82 L308.00,73.78 L310.00,73.73 L312.00,73.69 L314.00,73.64 L316.00,73.60 L318.00,73.56 L320.00,73.52 L322.00,73.47 L324.00,73.43 L326.00,73.39 L328.00,73.35 L330.00,73.31 L332.00,73.27 L334.00,73.23 L336.00,73.19 L338.00,73.15 L340.00,73.11 L342.00,73.07 L344.00,73.04 L346.00,73.00 L348.00,72.96 L350.00,72.92 L352.00,72.89 L354.00,72.85 L356.00,72.81 L358.00,72.78 L360.00,72.74 L362.00,72.70 L364.00,72.67 L366.00,72.63 L368.00,72.60 L370.00,72.56 L372.00,72.53 L374.00,72.49 L376.00,72.46 L378.00,72.43 L380.00,72.39 L382.00,72.36 L384.00,72.33 L386.00,72.29 L388.00,72.26 L390.00,72.23 L392.00,72.19 L394.00,72.16 L396.00,72.13 L398.00,72.09 L400.00,72.06 L402.00,72.03 L404.00,72.00 L406.00,71.97 L408.00,71.93 L410.00,71.90 L412.00,71.87 L414.00,71.84 L416.00,71.81 L418.00,71.78 L420.00,71.74 L422.00,71.71 L424.00,71.68 L426.00,71.65 L428.00,71.62 L430.00,71.59 L432.00,71.56 L434.00,71.53 L436.00,71.50 L438.00,71.47 L440.00,71.44 L442.00,71.41 L444.00,71.38 L446.00,71.35 L448.00,71.32 L450.00,71.29 L452.00,71.26 L454.00,71.23 L456.00,71.20 L458.00,71.17 L460.00,71.14 L462.00,71.11 L464.00,71.08 L466.00,71.05 L468.00,71.02 L470.00,70.99 L472.00,70.96 L474.00,70.93 L476.00,70.90 L478.00,70.87 L480.00,70.84 L482.00,70.81 L484.00,70.78 L486.00,70.75 L488.00,70.72 L490.00,70.70 L490.60,70.69" transform="translate(0.17,0)"/></g>
<g stroke="#0c8010"><path d="M44.50,272.50 L46.30,272.50 L47.90,246.50 L48.10,246.50 L49.80,272.50 L49.90,272.50 L50.00,272.50 L50.10,272.50 L50.20,272.50 L50.30,272.46 L50.40,272.27 L50.50,272.03 L50.60,271.75 L50.70,271.43 L50.80,271.07 L50.90,270.68 L51.00,270.25 L51.10,269.80 L51.20,269.32 L51.30,268.82 L51.40,268.30 L51.50,267.75 L51.60,267.19 L51.70,266.61 L51.80,266.02 L51.90,265.41 L52.00,264.79 L52.10,264.16 L52.20,263.52 L52.30,262.87 L52.40,262.22 L52.50,261.56 L52.60,260.89 L52.70,260.22 L52.80,259.54 L52.90,258.86 L53.00,258.18 L53.10,257.49 L53.20,256.81 L53.30,256.12 L53.40,255.43 L53.50,254.74 L53.60,254.06 L53.70,253.37 L53.80,252.69 L53.90,252.00 L54.00,251.32 L54.10,250.64 L54.20,249.96 L54.30,249.29 L54.40,248.62 L54.50,247.95 L54.60,247.29 L54.70,246.63 L54.80,245.97 L54.90,245.32 L55.00,244.67 L55.10,244.03 L55.20,243.39 L55.30,242.75 L55.40,242.12 L55.50,241.50 L55.60,240.88 L55.70,240.27 L55.80,239.66 L55.90,239.05 L56.00,238.45 L56.10,237.86 L56.20,237.27 L56.30,236.69 L56.40,236.11 L56.50,235.54 L56.60,234.98 L56.70,234.42 L56.80,233.86 L56.90,233.31 L57.00,232.77 L57.10,232.23 L57.20,231.70 L57.30,231.18 L57.40,230.66 L57.50,230.14 L57.60,229.63 L57.70,229.13 L57.80,228.64 L57.90,228.15 L58.00,227.66 L58.10,227.18 L58.20,226.71 L58.30,226.24 L58.40,225.78 L58.50,225.32 L58.60,224.87 L58.70,224.43 L58.80,223.99 L58.90,223.55 L59.00,223.12 L59.10,222.70 L59.20,222.28 L59.30,221.86 L59.40,221.45 L59.50,221.05 L59.60,220.65 L59.70,220.25 L59.80,219.86 L59.90,219.47 L60.00,219.09 L60.00,219.09 L60.50,217.24 L61.00,215.49 L61.50,213.83 L62.00,212.25 L62.50,210.76 L63.00,209.34 L63.50,207.99 L64.00,206.71 L64.50,205.48 L65.00,204.32 L65.50,203.21 L66.00,202.15 L66.50,201.13 L67.00,200.17 L67.50,199.24 L68.00,198.36 L68.50,197.51 L69.00,196.70 L69.50,195.92 L70.00,195.18 L70.50,194.46 L71.00,193.77 L71.50,193.11 L72.00,192.47 L72.50,191.86 L73.00,191.27 L73.50,190.70 L74.00,190.14 L74.50,189.61 L75.00,189.10 L75.50,188.60 L76.00,188.12 L76.50,187.66 L77.00,187.21 L77.50,186.77 L78.00,186.35 L78.50,185.94 L79.00,185.54 L79.50,185.15 L80.00,184.78 L80.50,184.41 L81.00,184.06 L81.50,183.71 L82.00,183.38 L82.50,183.05 L83.00,182.73 L83.50,182.42 L84.00,182.12 L84.50,181.83 L85.00,181.54 L85.50,181.26 L86.00,180.99 L86.50,180.72 L87.00,180.46 L87.50,180.21 L88.00,179.96 L88.50,179.71 L89.00,179.48 L89.50,179.24 L90.00,179.02 L90.50,178.79 L91.00,178.57 L91.50,178.36 L92.00,178.15 L92.50,177.94 L93.00,177.74 L93.50,177.54 L94.00,177.35 L94.50,177.16 L95.00,176.97 L95.50,176.78 L96.00,176.60 L96.50,176.43 L97.00,176.25 L97.50,176.08 L98.00,175.91 L98.50,175.74 L99.00,175.58 L99.50,175.42 L100.00,175.26 L100.50,175.10 L101.00,174.95 L101.50,174.80 L102.00,174.65 L102.50,174.51 L103.00,174.36 L103.50,174.22 L104.00,174.08 L104.50,173.94 L105.00,173.81 L105.50,173.67 L106.00,173.54 L106.50,173.41 L107.00,173.29 L107.50,173.16 L108.00,173.04 L108.50,172.92 L109.00,172.79 L109.50,172.68 L110.00,172.56 L110.50,172.44 L111.00,172.33 L111.50,172.22 L112.00,172.11 L112.50,172.00 L113.00,171.89 L113.50,171.78 L114.00,171.68 L114.50,171.58 L115.00,171.48 L115.50,171.37 L116.00,171.28 L116.50,171.18 L117.00,171.08 L117.50,170.99 L118.00,170.89 L118.50,170.80 L119.00,170.71 L119.50,170.62 L120.00,170.53 L122.00,170.18 L124.00,169.85 L126.00,169.53 L128.00,169.23 L130.00,168.94 L132.00,168.67 L134.00,168.41 L136.00,168.16 L138.00,167.91 L140.00,167.68 L142.00,167.46 L144.00,167.25 L146.00,167.05 L148.00,166.85 L150.00,166.66 L152.00,166.48 L154.00,166.30 L156.00,166.13 L158.00,165.97 L160.00,165.81 L162.00,165.66 L164.00,165.51 L166.00,165.37 L168.00,165.24 L170.00,165.10 L172.00,164.98 L174.00,164.85 L176.00,164.73 L178.00,164.62 L180.00,164.50 L182.00,164.40 L184.00,164.29 L186.00,164.19 L188.00,164.09 L190.00,163.99 L192.00,163.90 L194.00,163.81 L196.00,163.72 L198.00,163.63 L200.00,163.55 L202.00,163.47 L204.00,163.39 L206.00,163.31 L208.00,163.24 L210.00,163.16 L212.00,163.09 L214.00,163.02 L216.00,162.96 L218.00,162.89 L220.00,162.83 L222.00,162.76 L224.00,162.70 L226.00,162.64 L228.00,162.59 L230.00,162.53 L232.00,162.47 L234.00,162.42 L236.00,162.37 L238.00,162.32 L240.00,162.27 L242.00,162.22 L244.00,162.17 L246.00,162.12 L248.00,162.08 L250.00,162.03 L252.00,161.99 L254.00,161.95 L256.00,161.90 L258.00,161.86 L260.00,161.82 L262.00,161.78 L264.00,161.75 L266.00,161.71 L268.00,161.67 L270.00,161.64 L272.00,161.60 L274.00,161.57 L276.00,161.53 L278.00,161.50 L280.00,161.47 L282.00,161.43 L284.00,161.40 L286.00,161.37 L288.00,161.34 L290.00,161.31 L292.00,161.28 L294.00,161.26 L296.00,161.23 L298.00,161.20 L300.00,161.17 L302.00,161.15 L304.00,161.12 L306.00,161.10 L308.00,161.07 L310.00,161.05 L312.00,161.02 L314.00,161.00 L316.00,160.98 L318.00,160.95 L320.00,160.93 L322.00,160.91 L324.00,160.89 L326.00,160.86 L328.00,160.84 L330.00,160.82 L332.00,160.80 L334.00,160.78 L336.00,160.76 L338.00,160.74 L340.00,160.72 L342.00,160.71 L344.00,160.69 L346.00,160.67 L348.00,160.65 L350.00,160.63 L352.00,160.62 L354.00,160.60 L356.00,160.58 L358.00,160.56 L360.00,160.55 L362.00,160.53 L364.00,160.52 L366.00,160.50 L368.00,160.49 L370.00,160.47 L372.00,160.45 L374.00,160.44 L376.00,160.43 L378.00,160.41 L380.00,160.40 L382.00,160.38 L384.00,160.37 L386.00,160.35 L388.00,160.34 L390.00,160.33 L392.00,160.31 L394.00,160.30 L396.00,160.29 L398.00,160.28 L400.00,160.26 L402.00,160.25 L404.00,160.24 L406.00,160.23 L408.00,160.22 L410.00,160.20 L412.00,160.19 L414.00,160.18 L416.00,160.17 L418.00,160.16 L420.00,160.15 L422.00,160.14 L424.00,160.12 L426.00,160.11 L428.00,160.10 L430.00,160.09 L432.00,160.08 L434.00,160.07 L436.00,160.06 L438.00,160.05 L440.00,160.04 L442.00,160.03 L444.00,160.02 L446.00,160.01 L448.00,160.00 L450.00,159.99 L452.00,159.98 L454.00,159.97 L456.00,159.96 L458.00,159.96 L460.00,159.95 L462.00,159.94 L464.00,159.93 L466.00,159.92 L468.00,159.91 L470.00,159.90 L472.00,159.89 L474.00,159.89 L476.00,159.88 L478.00,159.87 L480.00,159.86 L482.00,159.85 L484.00,159.84 L486.00,159.84 L488.00,159.83 L490.00,159.82 L490.60,159.82" transform="translate(-0.17,0)"/><path d="M44.50,272.50 L46.30,272.50 L47.90,246.50 L48.10,246.50 L49.80,272.50 L49.90,272.50 L50.00,272.50 L50.10,272.50 L50.20,272.50 L50.30,272.46 L50.40,272.27 L50.50,272.03 L50.60,271.75 L50.70,271.43 L50.80,271.07 L50.90,270.68 L51.00,270.25 L51.10,269.80 L51.20,269.32 L51.30,268.82 L51.40,268.30 L51.50,267.75 L51.60,267.19 L51.70,266.61 L51.80,266.02 L51.90,265.41 L52.00,264.79 L52.10,264.16 L52.20,263.52 L52.30,262.87 L52.40,262.22 L52.50,261.56 L52.60,260.89 L52.70,260.22 L52.80,259.54 L52.90,258.86 L53.00,258.18 L53.10,257.49 L53.20,256.81 L53.30,256.12 L53.40,255.43 L53.50,254.74 L53.60,254.06 L53.70,253.37 L53.80,252.69 L53.90,252.00 L54.00,251.32 L54.10,250.64 L54.20,249.96 L54.30,249.29 L54.40,248.62 L54.50,247.95 L54.60,247.29 L54.70,246.63 L54.80,245.97 L54.90,245.32 L55.00,244.67 L55.10,244.03 L55.20,243.39 L55.30,242.75 L55.40,242.12 L55.50,241.50 L55.60,240.88 L55.70,240.27 L55.80,239.66 L55.90,239.05 L56.00,238.45 L56.10,237.86 L56.20,237.27 L56.30,236.69 L56.40,236.11 L56.50,235.54 L56.60,234.98 L56.70,234.42 L56.80,233.86 L56.90,233.31 L57.00,232.77 L57.10,232.23 L57.20,231.70 L57.30,231.18 L57.40,230.66 L57.50,230.14 L57.60,229.63 L57.70,229.13 L57.80,228.64 L57.90,228.15 L58.00,227.66 L58.10,227.18 L58.20,226.71 L58.30,226.24 L58.40,225.78 L58.50,225.32 L58.60,224.87 L58.70,224.43 L58.80,223.99 L58.90,223.55 L59.00,223.12 L59.10,222.70 L59.20,222.28 L59.30,221.86 L59.40,221.45 L59.50,221.05 L59.60,220.65 L59.70,220.25 L59.80,219.86 L59.90,219.47 L60.00,219.09 L60.00,219.09 L60.50,217.24 L61.00,215.49 L61.50,213.83 L62.00,212.25 L62.50,210.76 L63.00,209.34 L63.50,207.99 L64.00,206.71 L64.50,205.48 L65.00,204.32 L65.50,203.21 L66.00,202.15 L66.50,201.13 L67.00,200.17 L67.50,199.24 L68.00,198.36 L68.50,197.51 L69.00,196.70 L69.50,195.92 L70.00,195.18 L70.50,194.46 L71.00,193.77 L71.50,193.11 L72.00,192.47 L72.50,191.86 L73.00,191.27 L73.50,190.70 L74.00,190.14 L74.50,189.61 L75.00,189.10 L75.50,188.60 L76.00,188.12 L76.50,187.66 L77.00,187.21 L77.50,186.77 L78.00,186.35 L78.50,185.94 L79.00,185.54 L79.50,185.15 L80.00,184.78 L80.50,184.41 L81.00,184.06 L81.50,183.71 L82.00,183.38 L82.50,183.05 L83.00,182.73 L83.50,182.42 L84.00,182.12 L84.50,181.83 L85.00,181.54 L85.50,181.26 L86.00,180.99 L86.50,180.72 L87.00,180.46 L87.50,180.21 L88.00,179.96 L88.50,179.71 L89.00,179.48 L89.50,179.24 L90.00,179.02 L90.50,178.79 L91.00,178.57 L91.50,178.36 L92.00,178.15 L92.50,177.94 L93.00,177.74 L93.50,177.54 L94.00,177.35 L94.50,177.16 L95.00,176.97 L95.50,176.78 L96.00,176.60 L96.50,176.43 L97.00,176.25 L97.50,176.08 L98.00,175.91 L98.50,175.74 L99.00,175.58 L99.50,175.42 L100.00,175.26 L100.50,175.10 L101.00,174.95 L101.50,174.80 L102.00,174.65 L102.50,174.51 L103.00,174.36 L103.50,174.22 L104.00,174.08 L104.50,173.94 L105.00,173.81 L105.50,173.67 L106.00,173.54 L106.50,173.41 L107.00,173.29 L107.50,173.16 L108.00,173.04 L108.50,172.92 L109.00,172.79 L109.50,172.68 L110.00,172.56 L110.50,172.44 L111.00,172.33 L111.50,172.22 L112.00,172.11 L112.50,172.00 L113.00,171.89 L113.50,171.78 L114.00,171.68 L114.50,171.58 L115.00,171.48 L115.50,171.37 L116.00,171.28 L116.50,171.18 L117.00,171.08 L117.50,170.99 L118.00,170.89 L118.50,170.80 L119.00,170.71 L119.50,170.62 L120.00,170.53 L122.00,170.18 L124.00,169.85 L126.00,169.53 L128.00,169.23 L130.00,168.94 L132.00,168.67 L134.00,168.41 L136.00,168.16 L138.00,167.91 L140.00,167.68 L142.00,167.46 L144.00,167.25 L146.00,167.05 L148.00,166.85 L150.00,166.66 L152.00,166.48 L154.00,166.30 L156.00,166.13 L158.00,165.97 L160.00,165.81 L162.00,165.66 L164.00,165.51 L166.00,165.37 L168.00,165.24 L170.00,165.10 L172.00,164.98 L174.00,164.85 L176.00,164.73 L178.00,164.62 L180.00,164.50 L182.00,164.40 L184.00,164.29 L186.00,164.19 L188.00,164.09 L190.00,163.99 L192.00,163.90 L194.00,163.81 L196.00,163.72 L198.00,163.63 L200.00,163.55 L202.00,163.47 L204.00,163.39 L206.00,163.31 L208.00,163.24 L210.00,163.16 L212.00,163.09 L214.00,163.02 L216.00,162.96 L218.00,162.89 L220.00,162.83 L222.00,162.76 L224.00,162.70 L226.00,162.64 L228.00,162.59 L230.00,162.53 L232.00,162.47 L234.00,162.42 L236.00,162.37 L238.00,162.32 L240.00,162.27 L242.00,162.22 L244.00,162.17 L246.00,162.12 L248.00,162.08 L250.00,162.03 L252.00,161.99 L254.00,161.95 L256.00,161.90 L258.00,161.86 L260.00,161.82 L262.00,161.78 L264.00,161.75 L266.00,161.71 L268.00,161.67 L270.00,161.64 L272.00,161.60 L274.00,161.57 L276.00,161.53 L278.00,161.50 L280.00,161.47 L282.00,161.43 L284.00,161.40 L286.00,161.37 L288.00,161.34 L290.00,161.31 L292.00,161.28 L294.00,161.26 L296.00,161.23 L298.00,161.20 L300.00,161.17 L302.00,161.15 L304.00,161.12 L306.00,161.10 L308.00,161.07 L310.00,161.05 L312.00,161.02 L314.00,161.00 L316.00,160.98 L318.00,160.95 L320.00,160.93 L322.00,160.91 L324.00,160.89 L326.00,160.86 L328.00,160.84 L330.00,160.82 L332.00,160.80 L334.00,160.78 L336.00,160.76 L338.00,160.74 L340.00,160.72 L342.00,160.71 L344.00,160.69 L346.00,160.67 L348.00,160.65 L350.00,160.63 L352.00,160.62 L354.00,160.60 L356.00,160.58 L358.00,160.56 L360.00,160.55 L362.00,160.53 L364.00,160.52 L366.00,160.50 L368.00,160.49 L370.00,160.47 L372.00,160.45 L374.00,160.44 L376.00,160.43 L378.00,160.41 L380.00,160.40 L382.00,160.38 L384.00,160.37 L386.00,160.35 L388.00,160.34 L390.00,160.33 L392.00,160.31 L394.00,160.30 L396.00,160.29 L398.00,160.28 L400.00,160.26 L402.00,160.25 L404.00,160.24 L406.00,160.23 L408.00,160.22 L410.00,160.20 L412.00,160.19 L414.00,160.18 L416.00,160.17 L418.00,160.16 L420.00,160.15 L422.00,160.14 L424.00,160.12 L426.00,160.11 L428.00,160.10 L430.00,160.09 L432.00,160.08 L434.00,160.07 L436.00,160.06 L438.00,160.05 L440.00,160.04 L442.00,160.03 L444.00,160.02 L446.00,160.01 L448.00,160.00 L450.00,159.99 L452.00,159.98 L454.00,159.97 L456.00,159.96 L458.00,159.96 L460.00,159.95 L462.00,159.94 L464.00,159.93 L466.00,159.92 L468.00,159.91 L470.00,159.90 L472.00,159.89 L474.00,159.89 L476.00,159.88 L478.00,159.87 L480.00,159.86 L482.00,159.85 L484.00,159.84 L486.00,159.84 L488.00,159.83 L490.00,159.82 L490.60,159.82" transform="translate(0.17,0)"/></g>
<g stroke="#ff7030"><path d="M44.50,272.50 L46.30,272.50 L47.90,244.50 L48.10,244.50 L49.80,272.50 L49.90,272.23 L50.00,271.86 L50.10,271.46 L50.20,271.01 L50.30,270.53 L50.40,270.01 L50.50,269.47 L50.60,268.90 L50.70,268.30 L50.80,267.69 L50.90,267.05 L51.00,266.40 L51.10,265.73 L51.20,265.04 L51.30,264.35 L51.40,263.64 L51.50,262.93 L51.60,262.20 L51.70,261.47 L51.80,260.73 L51.90,259.99 L52.00,259.24 L52.10,258.49 L52.20,257.74 L52.30,256.99 L52.40,256.23 L52.50,255.47 L52.60,254.72 L52.70,253.96 L52.80,253.20 L52.90,252.45 L53.00,251.70 L53.10,250.95 L53.20,250.20 L53.30,249.46 L53.40,248.72 L53.50,247.98 L53.60,247.25 L53.70,246.52 L53.80,245.79 L53.90,245.07 L54.00,244.36 L54.10,243.64 L54.20,242.94 L54.30,242.24 L54.40,241.54 L54.50,240.85 L54.60,240.17 L54.70,239.49 L54.80,238.81 L54.90,238.15 L55.00,237.48 L55.10,236.83 L55.20,236.18 L55.30,235.53 L55.40,234.90 L55.50,234.26 L55.60,233.64 L55.70,233.02 L55.80,232.41 L55.90,231.80 L56.00,231.20 L56.10,230.60 L56.20,230.02 L56.30,229.43 L56.40,228.86 L56.50,228.29 L56.60,227.73 L56.70,227.17 L56.80,226.62 L56.90,226.08 L57.00,225.54 L57.10,225.01 L57.20,224.48 L57.30,223.96 L57.40,223.44 L57.50,222.94 L57.60,222.43 L57.70,221.94 L57.80,221.44 L57.90,220.96 L58.00,220.48 L58.10,220.00 L58.20,219.53 L58.30,219.07 L58.40,218.61 L58.50,218.15 L58.60,217.70 L58.70,217.25 L58.80,216.81 L58.90,216.38 L59.00,215.95 L59.10,215.52 L59.20,215.10 L59.30,214.68 L59.40,214.27 L59.50,213.86 L59.60,213.46 L59.70,213.06 L59.80,212.66 L59.90,212.27 L60.00,211.89 L60.00,211.89 L60.50,210.01 L61.00,208.24 L61.50,206.55 L62.00,204.95 L62.50,203.43 L63.00,202.00 L63.50,200.63 L64.00,199.33 L64.50,198.10 L65.00,196.93 L65.50,195.81 L66.00,194.74 L66.50,193.72 L67.00,192.75 L67.50,191.82 L68.00,190.93 L68.50,190.07 L69.00,189.25 L69.50,188.47 L70.00,187.71 L70.50,186.98 L71.00,186.28 L71.50,185.61 L72.00,184.96 L72.50,184.33 L73.00,183.72 L73.50,183.14 L74.00,182.57 L74.50,182.03 L75.00,181.50 L75.50,180.98 L76.00,180.49 L76.50,180.01 L77.00,179.54 L77.50,179.09 L78.00,178.65 L78.50,178.22 L79.00,177.80 L79.50,177.40 L80.00,177.01 L80.50,176.62 L81.00,176.25 L81.50,175.89 L82.00,175.53 L82.50,175.19 L83.00,174.85 L83.50,174.52 L84.00,174.20 L84.50,173.88 L85.00,173.58 L85.50,173.28 L86.00,172.98 L86.50,172.69 L87.00,172.41 L87.50,172.14 L88.00,171.87 L88.50,171.60 L89.00,171.34 L89.50,171.09 L90.00,170.84 L90.50,170.59 L91.00,170.35 L91.50,170.12 L92.00,169.89 L92.50,169.66 L93.00,169.44 L93.50,169.22 L94.00,169.00 L94.50,168.79 L95.00,168.58 L95.50,168.38 L96.00,168.18 L96.50,167.98 L97.00,167.79 L97.50,167.60 L98.00,167.41 L98.50,167.23 L99.00,167.05 L99.50,166.87 L100.00,166.69 L100.50,166.52 L101.00,166.35 L101.50,166.18 L102.00,166.02 L102.50,165.86 L103.00,165.70 L103.50,165.54 L104.00,165.39 L104.50,165.24 L105.00,165.09 L105.50,164.94 L106.00,164.80 L106.50,164.65 L107.00,164.51 L107.50,164.37 L108.00,164.24 L108.50,164.10 L109.00,163.97 L109.50,163.84 L110.00,163.71 L110.50,163.58 L111.00,163.46 L111.50,163.33 L112.00,163.21 L112.50,163.09 L113.00,162.97 L113.50,162.85 L114.00,162.74 L114.50,162.62 L115.00,162.51 L115.50,162.40 L116.00,162.29 L116.50,162.18 L117.00,162.08 L117.50,161.97 L118.00,161.87 L118.50,161.77 L119.00,161.66 L119.50,161.56 L120.00,161.47 L122.00,161.08 L124.00,160.72 L126.00,160.37 L128.00,160.04 L130.00,159.72 L132.00,159.42 L134.00,159.13 L136.00,158.86 L138.00,158.59 L140.00,158.34 L142.00,158.09 L144.00,157.86 L146.00,157.64 L148.00,157.42 L150.00,157.21 L152.00,157.01 L154.00,156.82 L156.00,156.64 L158.00,156.46 L160.00,156.29 L162.00,156.12 L164.00,155.96 L166.00,155.81 L168.00,155.66 L170.00,155.51 L172.00,155.37 L174.00,155.24 L176.00,155.11 L178.00,154.98 L180.00,154.86 L182.00,154.74 L184.00,154.62 L186.00,154.51 L188.00,154.41 L190.00,154.30 L192.00,154.20 L194.00,154.10 L196.00,154.00 L198.00,153.91 L200.00,153.82 L202.00,153.73 L204.00,153.65 L206.00,153.56 L208.00,153.48 L210.00,153.41 L212.00,153.33 L214.00,153.25 L216.00,153.18 L218.00,153.11 L220.00,153.04 L222.00,152.98 L224.00,152.91 L226.00,152.85 L228.00,152.79 L230.00,152.73 L232.00,152.67 L234.00,152.61 L236.00,152.55 L238.00,152.50 L240.00,152.45 L242.00,152.39 L244.00,152.34 L246.00,152.29 L248.00,152.24 L250.00,152.20 L252.00,152.15 L254.00,152.11 L256.00,152.06 L258.00,152.02 L260.00,151.98 L262.00,151.94 L264.00,151.90 L266.00,151.86 L268.00,151.82 L270.00,151.78 L272.00,151.74 L274.00,151.71 L276.00,151.67 L278.00,151.64 L280.00,151.60 L282.00,151.57 L284.00,151.54 L286.00,151.50 L288.00,151.47 L290.00,151.44 L292.00,151.41 L294.00,151.38 L296.00,151.35 L298.00,151.33 L300.00,151.30 L302.00,151.27 L304.00,151.24 L306.00,151.22 L308.00,151.19 L310.00,151.17 L312.00,151.14 L314.00,151.12 L316.00,151.09 L318.00,151.07 L320.00,151.05 L322.00,151.03 L324.00,151.00 L326.00,150.98 L328.00,150.96 L330.00,150.94 L332.00,150.92 L334.00,150.90 L336.00,150.88 L338.00,150.86 L340.00,150.84 L342.00,150.82 L344.00,150.80 L346.00,150.79 L348.00,150.77 L350.00,150.75 L352.00,150.73 L354.00,150.72 L356.00,150.70 L358.00,150.68 L360.00,150.67 L362.00,150.65 L364.00,150.63 L366.00,150.62 L368.00,150.60 L370.00,150.59 L372.00,150.57 L374.00,150.56 L376.00,150.55 L378.00,150.53 L380.00,150.52 L382.00,150.50 L384.00,150.49 L386.00,150.48 L388.00,150.46 L390.00,150.45 L392.00,150.44 L394.00,150.43 L396.00,150.41 L398.00,150.40 L400.00,150.39 L402.00,150.38 L404.00,150.37 L406.00,150.35 L408.00,150.34 L410.00,150.33 L412.00,150.32 L414.00,150.31 L416.00,150.30 L418.00,150.29 L420.00,150.28 L422.00,150.27 L424.00,150.26 L426.00,150.25 L428.00,150.24 L430.00,150.23 L432.00,150.22 L434.00,150.21 L436.00,150.20 L438.00,150.19 L440.00,150.18 L442.00,150.17 L444.00,150.16 L446.00,150.15 L448.00,150.14 L450.00,150.14 L452.00,150.13 L454.00,150.12 L456.00,150.11 L458.00,150.10 L460.00,150.09 L462.00,150.09 L464.00,150.08 L466.00,150.07 L468.00,150.06 L470.00,150.05 L472.00,150.05 L474.00,150.04 L476.00,150.03 L478.00,150.02 L480.00,150.02 L482.00,150.01 L484.00,150.00 L486.00,149.99 L488.00,149.99 L490.00,149.98 L490.60,149.98" transform="translate(-0.17,0)"/><path d="M44.50,272.50 L46.30,272.50 L47.90,244.50 L48.10,244.50 L49.80,272.50 L49.90,272.23 L50.00,271.86 L50.10,271.46 L50.20,271.01 L50.30,270.53 L50.40,270.01 L50.50,269.47 L50.60,268.90 L50.70,268.30 L50.80,267.69 L50.90,267.05 L51.00,266.40 L51.10,265.73 L51.20,265.04 L51.30,264.35 L51.40,263.64 L51.50,262.93 L51.60,262.20 L51.70,261.47 L51.80,260.73 L51.90,259.99 L52.00,259.24 L52.10,258.49 L52.20,257.74 L52.30,256.99 L52.40,256.23 L52.50,255.47 L52.60,254.72 L52.70,253.96 L52.80,253.20 L52.90,252.45 L53.00,251.70 L53.10,250.95 L53.20,250.20 L53.30,249.46 L53.40,248.72 L53.50,247.98 L53.60,247.25 L53.70,246.52 L53.80,245.79 L53.90,245.07 L54.00,244.36 L54.10,243.64 L54.20,242.94 L54.30,242.24 L54.40,241.54 L54.50,240.85 L54.60,240.17 L54.70,239.49 L54.80,238.81 L54.90,238.15 L55.00,237.48 L55.10,236.83 L55.20,236.18 L55.30,235.53 L55.40,234.90 L55.50,234.26 L55.60,233.64 L55.70,233.02 L55.80,232.41 L55.90,231.80 L56.00,231.20 L56.10,230.60 L56.20,230.02 L56.30,229.43 L56.40,228.86 L56.50,228.29 L56.60,227.73 L56.70,227.17 L56.80,226.62 L56.90,226.08 L57.00,225.54 L57.10,225.01 L57.20,224.48 L57.30,223.96 L57.40,223.44 L57.50,222.94 L57.60,222.43 L57.70,221.94 L57.80,221.44 L57.90,220.96 L58.00,220.48 L58.10,220.00 L58.20,219.53 L58.30,219.07 L58.40,218.61 L58.50,218.15 L58.60,217.70 L58.70,217.25 L58.80,216.81 L58.90,216.38 L59.00,215.95 L59.10,215.52 L59.20,215.10 L59.30,214.68 L59.40,214.27 L59.50,213.86 L59.60,213.46 L59.70,213.06 L59.80,212.66 L59.90,212.27 L60.00,211.89 L60.00,211.89 L60.50,210.01 L61.00,208.24 L61.50,206.55 L62.00,204.95 L62.50,203.43 L63.00,202.00 L63.50,200.63 L64.00,199.33 L64.50,198.10 L65.00,196.93 L65.50,195.81 L66.00,194.74 L66.50,193.72 L67.00,192.75 L67.50,191.82 L68.00,190.93 L68.50,190.07 L69.00,189.25 L69.50,188.47 L70.00,187.71 L70.50,186.98 L71.00,186.28 L71.50,185.61 L72.00,184.96 L72.50,184.33 L73.00,183.72 L73.50,183.14 L74.00,182.57 L74.50,182.03 L75.00,181.50 L75.50,180.98 L76.00,180.49 L76.50,180.01 L77.00,179.54 L77.50,179.09 L78.00,178.65 L78.50,178.22 L79.00,177.80 L79.50,177.40 L80.00,177.01 L80.50,176.62 L81.00,176.25 L81.50,175.89 L82.00,175.53 L82.50,175.19 L83.00,174.85 L83.50,174.52 L84.00,174.20 L84.50,173.88 L85.00,173.58 L85.50,173.28 L86.00,172.98 L86.50,172.69 L87.00,172.41 L87.50,172.14 L88.00,171.87 L88.50,171.60 L89.00,171.34 L89.50,171.09 L90.00,170.84 L90.50,170.59 L91.00,170.35 L91.50,170.12 L92.00,169.89 L92.50,169.66 L93.00,169.44 L93.50,169.22 L94.00,169.00 L94.50,168.79 L95.00,168.58 L95.50,168.38 L96.00,168.18 L96.50,167.98 L97.00,167.79 L97.50,167.60 L98.00,167.41 L98.50,167.23 L99.00,167.05 L99.50,166.87 L100.00,166.69 L100.50,166.52 L101.00,166.35 L101.50,166.18 L102.00,166.02 L102.50,165.86 L103.00,165.70 L103.50,165.54 L104.00,165.39 L104.50,165.24 L105.00,165.09 L105.50,164.94 L106.00,164.80 L106.50,164.65 L107.00,164.51 L107.50,164.37 L108.00,164.24 L108.50,164.10 L109.00,163.97 L109.50,163.84 L110.00,163.71 L110.50,163.58 L111.00,163.46 L111.50,163.33 L112.00,163.21 L112.50,163.09 L113.00,162.97 L113.50,162.85 L114.00,162.74 L114.50,162.62 L115.00,162.51 L115.50,162.40 L116.00,162.29 L116.50,162.18 L117.00,162.08 L117.50,161.97 L118.00,161.87 L118.50,161.77 L119.00,161.66 L119.50,161.56 L120.00,161.47 L122.00,161.08 L124.00,160.72 L126.00,160.37 L128.00,160.04 L130.00,159.72 L132.00,159.42 L134.00,159.13 L136.00,158.86 L138.00,158.59 L140.00,158.34 L142.00,158.09 L144.00,157.86 L146.00,157.64 L148.00,157.42 L150.00,157.21 L152.00,157.01 L154.00,156.82 L156.00,156.64 L158.00,156.46 L160.00,156.29 L162.00,156.12 L164.00,155.96 L166.00,155.81 L168.00,155.66 L170.00,155.51 L172.00,155.37 L174.00,155.24 L176.00,155.11 L178.00,154.98 L180.00,154.86 L182.00,154.74 L184.00,154.62 L186.00,154.51 L188.00,154.41 L190.00,154.30 L192.00,154.20 L194.00,154.10 L196.00,154.00 L198.00,153.91 L200.00,153.82 L202.00,153.73 L204.00,153.65 L206.00,153.56 L208.00,153.48 L210.00,153.41 L212.00,153.33 L214.00,153.25 L216.00,153.18 L218.00,153.11 L220.00,153.04 L222.00,152.98 L224.00,152.91 L226.00,152.85 L228.00,152.79 L230.00,152.73 L232.00,152.67 L234.00,152.61 L236.00,152.55 L238.00,152.50 L240.00,152.45 L242.00,152.39 L244.00,152.34 L246.00,152.29 L248.00,152.24 L250.00,152.20 L252.00,152.15 L254.00,152.11 L256.00,152.06 L258.00,152.02 L260.00,151.98 L262.00,151.94 L264.00,151.90 L266.00,151.86 L268.00,151.82 L270.00,151.78 L272.00,151.74 L274.00,151.71 L276.00,151.67 L278.00,151.64 L280.00,151.60 L282.00,151.57 L284.00,151.54 L286.00,151.50 L288.00,151.47 L290.00,151.44 L292.00,151.41 L294.00,151.38 L296.00,151.35 L298.00,151.33 L300.00,151.30 L302.00,151.27 L304.00,151.24 L306.00,151.22 L308.00,151.19 L310.00,151.17 L312.00,151.14 L314.00,151.12 L316.00,151.09 L318.00,151.07 L320.00,151.05 L322.00,151.03 L324.00,151.00 L326.00,150.98 L328.00,150.96 L330.00,150.94 L332.00,150.92 L334.00,150.90 L336.00,150.88 L338.00,150.86 L340.00,150.84 L342.00,150.82 L344.00,150.80 L346.00,150.79 L348.00,150.77 L350.00,150.75 L352.00,150.73 L354.00,150.72 L356.00,150.70 L358.00,150.68 L360.00,150.67 L362.00,150.65 L364.00,150.63 L366.00,150.62 L368.00,150.60 L370.00,150.59 L372.00,150.57 L374.00,150.56 L376.00,150.55 L378.00,150.53 L380.00,150.52 L382.00,150.50 L384.00,150.49 L386.00,150.48 L388.00,150.46 L390.00,150.45 L392.00,150.44 L394.00,150.43 L396.00,150.41 L398.00,150.40 L400.00,150.39 L402.00,150.38 L404.00,150.37 L406.00,150.35 L408.00,150.34 L410.00,150.33 L412.00,150.32 L414.00,150.31 L416.00,150.30 L418.00,150.29 L420.00,150.28 L422.00,150.27 L424.00,150.26 L426.00,150.25 L428.00,150.24 L430.00,150.23 L432.00,150.22 L434.00,150.21 L436.00,150.20 L438.00,150.19 L440.00,150.18 L442.00,150.17 L444.00,150.16 L446.00,150.15 L448.00,150.14 L450.00,150.14 L452.00,150.13 L454.00,150.12 L456.00,150.11 L458.00,150.10 L460.00,150.09 L462.00,150.09 L464.00,150.08 L466.00,150.07 L468.00,150.06 L470.00,150.05 L472.00,150.05 L474.00,150.04 L476.00,150.03 L478.00,150.02 L480.00,150.02 L482.00,150.01 L484.00,150.00 L486.00,149.99 L488.00,149.99 L490.00,149.98 L490.60,149.98" transform="translate(0.17,0)"/></g>
<g stroke="#ff1290" stroke-dasharray="2.6 2.4"><path d="M44.50,272.50 L46.30,272.50 L47.90,242.80 L48.10,242.80 L49.80,272.50 L49.90,272.23 L50.00,271.91 L50.10,271.54 L50.20,271.13 L50.30,270.67 L50.40,270.18 L50.50,269.65 L50.60,269.09 L50.70,268.50 L50.80,267.87 L50.90,267.22 L51.00,266.54 L51.10,265.84 L51.20,265.12 L51.30,264.37 L51.40,263.60 L51.50,262.82 L51.60,262.01 L51.70,261.19 L51.80,260.36 L51.90,259.51 L52.00,258.64 L52.10,257.77 L52.20,256.88 L52.30,255.98 L52.40,255.07 L52.50,254.15 L52.60,253.22 L52.70,252.28 L52.80,251.33 L52.90,250.38 L53.00,249.42 L53.10,248.46 L53.20,247.49 L53.30,246.52 L53.40,245.56 L53.50,244.59 L53.60,243.63 L53.70,242.67 L53.80,241.72 L53.90,240.77 L54.00,239.83 L54.10,238.90 L54.20,237.98 L54.30,237.06 L54.40,236.15 L54.50,235.26 L54.60,234.37 L54.70,233.50 L54.80,232.64 L54.90,231.79 L55.00,230.95 L55.10,230.13 L55.20,229.32 L55.30,228.52 L55.40,227.74 L55.50,226.97 L55.60,226.22 L55.70,225.48 L55.80,224.76 L55.90,224.05 L56.00,223.35 L56.10,222.67 L56.20,222.00 L56.30,221.34 L56.40,220.69 L56.50,220.06 L56.60,219.44 L56.70,218.83 L56.80,218.23 L56.90,217.64 L57.00,217.06 L57.10,216.49 L57.20,215.93 L57.30,215.38 L57.40,214.84 L57.50,214.30 L57.60,213.78 L57.70,213.27 L57.80,212.76 L57.90,212.26 L58.00,211.77 L58.10,211.29 L58.20,210.81 L58.30,210.35 L58.40,209.89 L58.50,209.43 L58.60,208.99 L58.70,208.55 L58.80,208.11 L58.90,207.69 L59.00,207.26 L59.10,206.85 L59.20,206.44 L59.30,206.04 L59.40,205.64 L59.50,205.25 L59.60,204.86 L59.70,204.48 L59.80,204.10 L59.90,203.73 L60.00,203.37 L60.00,203.37 L60.50,201.60 L61.00,199.95 L61.50,198.39 L62.00,196.92 L62.50,195.52 L63.00,194.20 L63.50,192.94 L64.00,191.73 L64.50,190.58 L65.00,189.48 L65.50,188.43 L66.00,187.41 L66.50,186.44 L67.00,185.51 L67.50,184.61 L68.00,183.75 L68.50,182.92 L69.00,182.12 L69.50,181.34 L70.00,180.60 L70.50,179.88 L71.00,179.18 L71.50,178.51 L72.00,177.86 L72.50,177.23 L73.00,176.62 L73.50,176.03 L74.00,175.46 L74.50,174.90 L75.00,174.36 L75.50,173.84 L76.00,173.33 L76.50,172.84 L77.00,172.36 L77.50,171.89 L78.00,171.43 L78.50,170.99 L79.00,170.56 L79.50,170.14 L80.00,169.73 L80.50,169.33 L81.00,168.94 L81.50,168.56 L82.00,168.19 L82.50,167.83 L83.00,167.47 L83.50,167.13 L84.00,166.79 L84.50,166.46 L85.00,166.14 L85.50,165.82 L86.00,165.51 L86.50,165.21 L87.00,164.92 L87.50,164.63 L88.00,164.34 L88.50,164.07 L89.00,163.79 L89.50,163.53 L90.00,163.27 L90.50,163.01 L91.00,162.76 L91.50,162.51 L92.00,162.27 L92.50,162.03 L93.00,161.80 L93.50,161.57 L94.00,161.35 L94.50,161.13 L95.00,160.91 L95.50,160.70 L96.00,160.49 L96.50,160.28 L97.00,160.08 L97.50,159.88 L98.00,159.69 L98.50,159.50 L99.00,159.31 L99.50,159.12 L100.00,158.94 L100.50,158.76 L101.00,158.58 L101.50,158.41 L102.00,158.24 L102.50,158.07 L103.00,157.91 L103.50,157.74 L104.00,157.58 L104.50,157.42 L105.00,157.27 L105.50,157.12 L106.00,156.96 L106.50,156.82 L107.00,156.67 L107.50,156.52 L108.00,156.38 L108.50,156.24 L109.00,156.10 L109.50,155.97 L110.00,155.83 L110.50,155.70 L111.00,155.57 L111.50,155.44 L112.00,155.32 L112.50,155.19 L113.00,155.07 L113.50,154.95 L114.00,154.83 L114.50,154.71 L115.00,154.59 L115.50,154.48 L116.00,154.36 L116.50,154.25 L117.00,154.14 L117.50,154.03 L118.00,153.92 L118.50,153.81 L119.00,153.71 L119.50,153.61 L120.00,153.50 L122.00,153.11 L124.00,152.73 L126.00,152.37 L128.00,152.02 L130.00,151.69 L132.00,151.38 L134.00,151.08 L136.00,150.79 L138.00,150.52 L140.00,150.25 L142.00,150.00 L144.00,149.76 L146.00,149.53 L148.00,149.30 L150.00,149.08 L152.00,148.88 L154.00,148.68 L156.00,148.48 L158.00,148.30 L160.00,148.12 L162.00,147.94 L164.00,147.78 L166.00,147.62 L168.00,147.46 L170.00,147.31 L172.00,147.16 L174.00,147.02 L176.00,146.88 L178.00,146.75 L180.00,146.62 L182.00,146.49 L184.00,146.37 L186.00,146.26 L188.00,146.14 L190.00,146.03 L192.00,145.92 L194.00,145.82 L196.00,145.71 L198.00,145.62 L200.00,145.52 L202.00,145.42 L204.00,145.33 L206.00,145.24 L208.00,145.16 L210.00,145.07 L212.00,144.99 L214.00,144.91 L216.00,144.83 L218.00,144.75 L220.00,144.68 L222.00,144.61 L224.00,144.54 L226.00,144.47 L228.00,144.40 L230.00,144.33 L232.00,144.27 L234.00,144.20 L236.00,144.14 L238.00,144.08 L240.00,144.02 L242.00,143.96 L244.00,143.91 L246.00,143.85 L248.00,143.79 L250.00,143.74 L252.00,143.69 L254.00,143.64 L256.00,143.59 L258.00,143.54 L260.00,143.49 L262.00,143.44 L264.00,143.40 L266.00,143.35 L268.00,143.30 L270.00,143.26 L272.00,143.22 L274.00,143.17 L276.00,143.13 L278.00,143.09 L280.00,143.05 L282.00,143.01 L284.00,142.97 L286.00,142.94 L288.00,142.90 L290.00,142.86 L292.00,142.82 L294.00,142.79 L296.00,142.75 L298.00,142.72 L300.00,142.68 L302.00,142.65 L304.00,142.62 L306.00,142.59 L308.00,142.55 L310.00,142.52 L312.00,142.49 L314.00,142.46 L316.00,142.43 L318.00,142.40 L320.00,142.37 L322.00,142.34 L324.00,142.31 L326.00,142.28 L328.00,142.26 L330.00,142.23 L332.00,142.20 L334.00,142.17 L336.00,142.15 L338.00,142.12 L340.00,142.10 L342.00,142.07 L344.00,142.05 L346.00,142.02 L348.00,142.00 L350.00,141.97 L352.00,141.95 L354.00,141.92 L356.00,141.90 L358.00,141.88 L360.00,141.85 L362.00,141.83 L364.00,141.81 L366.00,141.79 L368.00,141.77 L370.00,141.74 L372.00,141.72 L374.00,141.70 L376.00,141.68 L378.00,141.66 L380.00,141.64 L382.00,141.62 L384.00,141.60 L386.00,141.58 L388.00,141.56 L390.00,141.54 L392.00,141.52 L394.00,141.50 L396.00,141.48 L398.00,141.46 L400.00,141.44 L402.00,141.42 L404.00,141.40 L406.00,141.39 L408.00,141.37 L410.00,141.35 L412.00,141.33 L414.00,141.31 L416.00,141.30 L418.00,141.28 L420.00,141.26 L422.00,141.24 L424.00,141.23 L426.00,141.21 L428.00,141.19 L430.00,141.18 L432.00,141.16 L434.00,141.14 L436.00,141.13 L438.00,141.11 L440.00,141.09 L442.00,141.08 L444.00,141.06 L446.00,141.05 L448.00,141.03 L450.00,141.01 L452.00,141.00 L454.00,140.98 L456.00,140.97 L458.00,140.95 L460.00,140.94 L462.00,140.92 L464.00,140.91 L466.00,140.89 L468.00,140.88 L470.00,140.86 L472.00,140.85 L474.00,140.83 L476.00,140.82 L478.00,140.80 L480.00,140.79 L482.00,140.77 L484.00,140.76 L486.00,140.74 L488.00,140.73 L490.00,140.72 L490.60,140.71" transform="translate(-0.17,0)"/><path d="M44.50,272.50 L46.30,272.50 L47.90,242.80 L48.10,242.80 L49.80,272.50 L49.90,272.23 L50.00,271.91 L50.10,271.54 L50.20,271.13 L50.30,270.67 L50.40,270.18 L50.50,269.65 L50.60,269.09 L50.70,268.50 L50.80,267.87 L50.90,267.22 L51.00,266.54 L51.10,265.84 L51.20,265.12 L51.30,264.37 L51.40,263.60 L51.50,262.82 L51.60,262.01 L51.70,261.19 L51.80,260.36 L51.90,259.51 L52.00,258.64 L52.10,257.77 L52.20,256.88 L52.30,255.98 L52.40,255.07 L52.50,254.15 L52.60,253.22 L52.70,252.28 L52.80,251.33 L52.90,250.38 L53.00,249.42 L53.10,248.46 L53.20,247.49 L53.30,246.52 L53.40,245.56 L53.50,244.59 L53.60,243.63 L53.70,242.67 L53.80,241.72 L53.90,240.77 L54.00,239.83 L54.10,238.90 L54.20,237.98 L54.30,237.06 L54.40,236.15 L54.50,235.26 L54.60,234.37 L54.70,233.50 L54.80,232.64 L54.90,231.79 L55.00,230.95 L55.10,230.13 L55.20,229.32 L55.30,228.52 L55.40,227.74 L55.50,226.97 L55.60,226.22 L55.70,225.48 L55.80,224.76 L55.90,224.05 L56.00,223.35 L56.10,222.67 L56.20,222.00 L56.30,221.34 L56.40,220.69 L56.50,220.06 L56.60,219.44 L56.70,218.83 L56.80,218.23 L56.90,217.64 L57.00,217.06 L57.10,216.49 L57.20,215.93 L57.30,215.38 L57.40,214.84 L57.50,214.30 L57.60,213.78 L57.70,213.27 L57.80,212.76 L57.90,212.26 L58.00,211.77 L58.10,211.29 L58.20,210.81 L58.30,210.35 L58.40,209.89 L58.50,209.43 L58.60,208.99 L58.70,208.55 L58.80,208.11 L58.90,207.69 L59.00,207.26 L59.10,206.85 L59.20,206.44 L59.30,206.04 L59.40,205.64 L59.50,205.25 L59.60,204.86 L59.70,204.48 L59.80,204.10 L59.90,203.73 L60.00,203.37 L60.00,203.37 L60.50,201.60 L61.00,199.95 L61.50,198.39 L62.00,196.92 L62.50,195.52 L63.00,194.20 L63.50,192.94 L64.00,191.73 L64.50,190.58 L65.00,189.48 L65.50,188.43 L66.00,187.41 L66.50,186.44 L67.00,185.51 L67.50,184.61 L68.00,183.75 L68.50,182.92 L69.00,182.12 L69.50,181.34 L70.00,180.60 L70.50,179.88 L71.00,179.18 L71.50,178.51 L72.00,177.86 L72.50,177.23 L73.00,176.62 L73.50,176.03 L74.00,175.46 L74.50,174.90 L75.00,174.36 L75.50,173.84 L76.00,173.33 L76.50,172.84 L77.00,172.36 L77.50,171.89 L78.00,171.43 L78.50,170.99 L79.00,170.56 L79.50,170.14 L80.00,169.73 L80.50,169.33 L81.00,168.94 L81.50,168.56 L82.00,168.19 L82.50,167.83 L83.00,167.47 L83.50,167.13 L84.00,166.79 L84.50,166.46 L85.00,166.14 L85.50,165.82 L86.00,165.51 L86.50,165.21 L87.00,164.92 L87.50,164.63 L88.00,164.34 L88.50,164.07 L89.00,163.79 L89.50,163.53 L90.00,163.27 L90.50,163.01 L91.00,162.76 L91.50,162.51 L92.00,162.27 L92.50,162.03 L93.00,161.80 L93.50,161.57 L94.00,161.35 L94.50,161.13 L95.00,160.91 L95.50,160.70 L96.00,160.49 L96.50,160.28 L97.00,160.08 L97.50,159.88 L98.00,159.69 L98.50,159.50 L99.00,159.31 L99.50,159.12 L100.00,158.94 L100.50,158.76 L101.00,158.58 L101.50,158.41 L102.00,158.24 L102.50,158.07 L103.00,157.91 L103.50,157.74 L104.00,157.58 L104.50,157.42 L105.00,157.27 L105.50,157.12 L106.00,156.96 L106.50,156.82 L107.00,156.67 L107.50,156.52 L108.00,156.38 L108.50,156.24 L109.00,156.10 L109.50,155.97 L110.00,155.83 L110.50,155.70 L111.00,155.57 L111.50,155.44 L112.00,155.32 L112.50,155.19 L113.00,155.07 L113.50,154.95 L114.00,154.83 L114.50,154.71 L115.00,154.59 L115.50,154.48 L116.00,154.36 L116.50,154.25 L117.00,154.14 L117.50,154.03 L118.00,153.92 L118.50,153.81 L119.00,153.71 L119.50,153.61 L120.00,153.50 L122.00,153.11 L124.00,152.73 L126.00,152.37 L128.00,152.02 L130.00,151.69 L132.00,151.38 L134.00,151.08 L136.00,150.79 L138.00,150.52 L140.00,150.25 L142.00,150.00 L144.00,149.76 L146.00,149.53 L148.00,149.30 L150.00,149.08 L152.00,148.88 L154.00,148.68 L156.00,148.48 L158.00,148.30 L160.00,148.12 L162.00,147.94 L164.00,147.78 L166.00,147.62 L168.00,147.46 L170.00,147.31 L172.00,147.16 L174.00,147.02 L176.00,146.88 L178.00,146.75 L180.00,146.62 L182.00,146.49 L184.00,146.37 L186.00,146.26 L188.00,146.14 L190.00,146.03 L192.00,145.92 L194.00,145.82 L196.00,145.71 L198.00,145.62 L200.00,145.52 L202.00,145.42 L204.00,145.33 L206.00,145.24 L208.00,145.16 L210.00,145.07 L212.00,144.99 L214.00,144.91 L216.00,144.83 L218.00,144.75 L220.00,144.68 L222.00,144.61 L224.00,144.54 L226.00,144.47 L228.00,144.40 L230.00,144.33 L232.00,144.27 L234.00,144.20 L236.00,144.14 L238.00,144.08 L240.00,144.02 L242.00,143.96 L244.00,143.91 L246.00,143.85 L248.00,143.79 L250.00,143.74 L252.00,143.69 L254.00,143.64 L256.00,143.59 L258.00,143.54 L260.00,143.49 L262.00,143.44 L264.00,143.40 L266.00,143.35 L268.00,143.30 L270.00,143.26 L272.00,143.22 L274.00,143.17 L276.00,143.13 L278.00,143.09 L280.00,143.05 L282.00,143.01 L284.00,142.97 L286.00,142.94 L288.00,142.90 L290.00,142.86 L292.00,142.82 L294.00,142.79 L296.00,142.75 L298.00,142.72 L300.00,142.68 L302.00,142.65 L304.00,142.62 L306.00,142.59 L308.00,142.55 L310.00,142.52 L312.00,142.49 L314.00,142.46 L316.00,142.43 L318.00,142.40 L320.00,142.37 L322.00,142.34 L324.00,142.31 L326.00,142.28 L328.00,142.26 L330.00,142.23 L332.00,142.20 L334.00,142.17 L336.00,142.15 L338.00,142.12 L340.00,142.10 L342.00,142.07 L344.00,142.05 L346.00,142.02 L348.00,142.00 L350.00,141.97 L352.00,141.95 L354.00,141.92 L356.00,141.90 L358.00,141.88 L360.00,141.85 L362.00,141.83 L364.00,141.81 L366.00,141.79 L368.00,141.77 L370.00,141.74 L372.00,141.72 L374.00,141.70 L376.00,141.68 L378.00,141.66 L380.00,141.64 L382.00,141.62 L384.00,141.60 L386.00,141.58 L388.00,141.56 L390.00,141.54 L392.00,141.52 L394.00,141.50 L396.00,141.48 L398.00,141.46 L400.00,141.44 L402.00,141.42 L404.00,141.40 L406.00,141.39 L408.00,141.37 L410.00,141.35 L412.00,141.33 L414.00,141.31 L416.00,141.30 L418.00,141.28 L420.00,141.26 L422.00,141.24 L424.00,141.23 L426.00,141.21 L428.00,141.19 L430.00,141.18 L432.00,141.16 L434.00,141.14 L436.00,141.13 L438.00,141.11 L440.00,141.09 L442.00,141.08 L444.00,141.06 L446.00,141.05 L448.00,141.03 L450.00,141.01 L452.00,141.00 L454.00,140.98 L456.00,140.97 L458.00,140.95 L460.00,140.94 L462.00,140.92 L464.00,140.91 L466.00,140.89 L468.00,140.88 L470.00,140.86 L472.00,140.85 L474.00,140.83 L476.00,140.82 L478.00,140.80 L480.00,140.79 L482.00,140.77 L484.00,140.76 L486.00,140.74 L488.00,140.73 L490.00,140.72 L490.60,140.71" transform="translate(0.17,0)"/></g>
</g>
<g stroke="#989898" stroke-width="0.55" fill="none">
<rect x="35.4" y="0.45" width="464.15000000000003" height="286.65000000000003"/>
<path d="M44.50,287.1v-2.6M44.50,0.45v2.6M65.12,287.1v-1.6M65.12,0.45v1.6M85.75,287.1v-1.6M85.75,0.45v1.6M106.38,287.1v-1.6M106.38,0.45v1.6M127.00,287.1v-1.6M127.00,0.45v1.6M147.62,287.1v-2.6M147.62,0.45v2.6M168.25,287.1v-1.6M168.25,0.45v1.6M188.88,287.1v-1.6M188.88,0.45v1.6M209.50,287.1v-1.6M209.50,0.45v1.6M230.12,287.1v-1.6M230.12,0.45v1.6M250.75,287.1v-2.6M250.75,0.45v2.6M271.38,287.1v-1.6M271.38,0.45v1.6M292.00,287.1v-1.6M292.00,0.45v1.6M312.62,287.1v-1.6M312.62,0.45v1.6M333.25,287.1v-1.6M333.25,0.45v1.6M353.88,287.1v-2.6M353.88,0.45v2.6M374.50,287.1v-1.6M374.50,0.45v1.6M395.12,287.1v-1.6M395.12,0.45v1.6M415.75,287.1v-1.6M415.75,0.45v1.6M436.38,287.1v-1.6M436.38,0.45v1.6M457.00,287.1v-2.6M457.00,0.45v2.6M477.62,287.1v-1.6M477.62,0.45v1.6M35.4,283.40h1.6M499.55,283.40h-1.6M35.4,272.50h2.6M499.55,272.50h-2.6M35.4,261.60h1.6M499.55,261.60h-1.6M35.4,250.70h1.6M499.55,250.70h-1.6M35.4,239.80h1.6M499.55,239.80h-1.6M35.4,228.90h1.6M499.55,228.90h-1.6M35.4,218.00h2.6M499.55,218.00h-2.6M35.4,207.10h1.6M499.55,207.10h-1.6M35.4,196.20h1.6M499.55,196.20h-1.6M35.4,185.30h1.6M499.55,185.30h-1.6M35.4,174.40h1.6M499.55,174.40h-1.6M35.4,163.50h2.6M499.55,163.50h-2.6M35.4,152.60h1.6M499.55,152.60h-1.6M35.4,141.70h1.6M499.55,141.70h-1.6M35.4,130.80h1.6M499.55,130.80h-1.6M35.4,119.90h1.6M499.55,119.90h-1.6M35.4,109.00h2.6M499.55,109.00h-2.6M35.4,98.10h1.6M499.55,98.10h-1.6M35.4,87.20h1.6M499.55,87.20h-1.6M35.4,76.30h1.6M499.55,76.30h-1.6M35.4,65.40h1.6M499.55,65.40h-1.6M35.4,54.50h2.6M499.55,54.50h-2.6M35.4,43.60h1.6M499.55,43.60h-1.6M35.4,32.70h1.6M499.55,32.70h-1.6M35.4,21.80h1.6M499.55,21.80h-1.6M35.4,10.90h1.6M499.55,10.90h-1.6" stroke="#505050" stroke-width="0.6"/>
</g>
<g font-family="Liberation Sans, sans-serif" font-size="6.7" fill="#1a1a1a" text-anchor="middle">
<text x="44.5" y="295" textLength="3.13" lengthAdjust="spacingAndGlyphs">0</text>
<text x="147.6" y="295" textLength="6.26" lengthAdjust="spacingAndGlyphs">50</text>
<text x="250.8" y="295" textLength="9.39" lengthAdjust="spacingAndGlyphs">100</text>
<text x="353.9" y="295" textLength="9.39" lengthAdjust="spacingAndGlyphs">150</text>
<text x="457.0" y="295" textLength="9.39" lengthAdjust="spacingAndGlyphs">200</text>
</g>
<g font-family="Liberation Sans, sans-serif" font-size="6.7" fill="#1a1a1a" text-anchor="end">
<text x="33.1" y="274.9" textLength="3.08" lengthAdjust="spacingAndGlyphs">0</text>
<text x="33.1" y="220.4" textLength="6.16" lengthAdjust="spacingAndGlyphs">10</text>
<text x="33.1" y="165.9" textLength="6.16" lengthAdjust="spacingAndGlyphs">20</text>
<text x="33.1" y="111.4" textLength="6.16" lengthAdjust="spacingAndGlyphs">30</text>
<text x="33.1" y="56.9" textLength="6.16" lengthAdjust="spacingAndGlyphs">40</text>
</g>
<g font-family="Liberation Serif, serif" fill="#111">
<text x="230.6" y="308.8" font-size="8.9" font-weight="bold">Fractional radius</text>
<text x="297.7" y="308.8" font-size="9" font-style="italic" fill="#3a3a3a">r</text>
<path d="M302.1,304.6L303.9,302" stroke="#555" stroke-width="0.7" fill="none"/>
</g>
<g transform="rotate(-90)" font-family="Liberation Serif, serif" fill="#2a2a2a">
<text y="7.6" font-size="9.5" font-style="italic"><tspan x="-165.8">m</tspan><tspan font-size="6.5" dy="1.6">t</tspan><tspan dy="-1.6" font-style="normal">(</tspan><tspan>r′</tspan><tspan font-style="normal">)</tspan></text>
<path d="M-165.8,11.3H-143.6" stroke="#222" stroke-width="0.7" fill="none"/>
<text y="21.2" font-size="9.5" font-style="italic"><tspan x="-162">m</tspan><tspan font-size="6.5" dy="1.8" font-style="normal">⊙</tspan><tspan font-size="6.5">t</tspan></text>
<text y="14.4" font-size="10.2" fill="#111" stroke="#111" stroke-width="0.45"><tspan x="-138">10</tspan><tspan font-size="7.2" dy="-4.4" dx="0.3">3</tspan></text>
<path d="M-138.2,6.4h-1.4V17.9h1.4M-123.3,6.4h1.4V17.9h-1.4" stroke="#1a1a1a" stroke-width="0.95" fill="none"/>
</g>
<g font-family="Liberation Serif, serif" font-size="9.7" fill="#000">
<path d="M75.2,232.5H93.3" stroke="#000000" stroke-width="1.35" fill="none"/>
<text x="98.2" y="235.8" stroke="#000" stroke-width="0.22">Borexino best<tspan dx="0.7" dy="0.4">–</tspan><tspan dx="0.2" dy="-0.4">fit</tspan></text>
<path d="M75.2,253.0H93.3" stroke="#bc0a0a" stroke-width="1.35" fill="none"/>
<text x="98.2" y="256.3" stroke="#000" stroke-width="0.22">Kamiokande best<tspan dx="0.7" dy="0.4">–</tspan><tspan dx="0.2" dy="-0.4">fit</tspan></text>
<path d="M75.2,273.5H93.3" stroke="#06069e" stroke-width="1.35" fill="none"/>
<text x="98.2" y="276.8" stroke="#000" stroke-width="0.22">Global SK best<tspan dx="0.7" dy="0.4">–</tspan><tspan dx="0.2" dy="-0.4">fit</tspan></text>
<path d="M186.9,232.5H204.9" stroke="#0c8010" stroke-width="1.35" fill="none"/>
<text x="210" y="235.8" stroke="#000" stroke-width="0.22">Global SNO best<tspan dx="0.7" dy="0.4">–</tspan><tspan dx="0.2" dy="-0.4">fit</tspan></text>
<path d="M186.9,253.0H204.9" stroke="#ff7030" stroke-width="1.35" fill="none"/>
<text x="210" y="256.3" stroke="#000" stroke-width="0.22">SK+SNO best<tspan dx="0.7" dy="0.4">–</tspan><tspan dx="0.2" dy="-0.4">fit</tspan></text>
<path d="M186.9,273.5H204.9" stroke="#ff1290" stroke-width="1.35" fill="none" stroke-dasharray="3 2"/>
<text x="210" y="276.8" stroke="#000" stroke-width="0.22">Global best<tspan dx="0.7" dy="0.4">–</tspan><tspan dx="0.2" dy="-0.4">fit</tspan></text>
</g>
<rect x="314.6" y="168.5" width="163.09999999999997" height="99.89999999999998" fill="#fff"/>
<path d="M349.10,168.5V268.4M380.40,168.5V268.4M411.70,168.5V268.4M443.00,168.5V268.4M314.6,251.12H477.7M314.6,238.50H477.7M314.6,225.88H477.7M314.6,213.25H477.7M314.6,200.62H477.7M314.6,188.00H477.7M314.6,175.38H477.7" stroke="#e6e6e6" stroke-width="0.6" fill="none"/>
<g fill="none" stroke-width="1.2" stroke-linejoin="round">
<g stroke="#000000"><path d="M317.80,263.75 L325.62,263.75 L333.45,263.75 L341.28,263.75 L349.10,263.75 L356.93,263.75 L364.75,263.75 L372.58,263.75 L380.40,263.75 L388.23,263.75 L396.05,263.75 L403.88,263.75 L411.70,263.75 L419.53,263.75 L427.35,263.74 L427.98,263.74 L428.60,263.74 L429.23,263.74 L429.85,263.73 L430.48,263.73 L431.11,263.73 L431.73,263.73 L432.36,263.72 L432.98,263.72 L433.61,263.72 L434.24,263.71 L434.86,263.71 L435.49,263.70 L436.11,263.70 L436.74,263.69 L437.37,263.68 L437.99,263.67 L438.62,263.66 L439.24,263.65 L439.87,263.64 L440.50,263.62 L441.12,263.61 L441.75,263.59 L442.37,263.57 L443.00,263.55 L443.63,263.52 L444.25,263.49 L444.88,263.46 L445.50,263.43 L446.13,263.39 L446.76,263.34 L447.38,263.29 L448.01,263.23 L448.63,263.17 L449.26,263.10 L449.89,263.02 L450.51,262.94 L451.14,262.84 L451.76,262.73 L452.39,262.61 L453.02,262.48 L453.64,262.33 L454.27,262.16 L454.89,261.97 L455.52,261.77 L456.15,261.54 L456.77,261.28 L457.40,260.99 L458.02,260.68 L458.65,260.33 L459.28,259.94 L459.90,259.51 L460.53,259.03 L461.15,258.49 L461.78,257.91 L462.41,257.25 L463.03,256.53 L463.66,255.73 L464.28,254.85 L464.91,253.87 L465.54,252.79 L466.16,251.60 L466.79,250.28 L467.41,248.82 L468.04,247.22 L468.67,245.44 L469.29,243.49 L469.92,241.34 L470.54,238.96 L471.17,236.35 L471.80,233.48 L472.42,230.31 L473.05,226.83 L473.67,223.01 L474.30,218.80" transform="translate(-0.17,0)"/><path d="M317.80,263.75 L325.62,263.75 L333.45,263.75 L341.28,263.75 L349.10,263.75 L356.93,263.75 L364.75,263.75 L372.58,263.75 L380.40,263.75 L388.23,263.75 L396.05,263.75 L403.88,263.75 L411.70,263.75 L419.53,263.75 L427.35,263.74 L427.98,263.74 L428.60,263.74 L429.23,263.74 L429.85,263.73 L430.48,263.73 L431.11,263.73 L431.73,263.73 L432.36,263.72 L432.98,263.72 L433.61,263.72 L434.24,263.71 L434.86,263.71 L435.49,263.70 L436.11,263.70 L436.74,263.69 L437.37,263.68 L437.99,263.67 L438.62,263.66 L439.24,263.65 L439.87,263.64 L440.50,263.62 L441.12,263.61 L441.75,263.59 L442.37,263.57 L443.00,263.55 L443.63,263.52 L444.25,263.49 L444.88,263.46 L445.50,263.43 L446.13,263.39 L446.76,263.34 L447.38,263.29 L448.01,263.23 L448.63,263.17 L449.26,263.10 L449.89,263.02 L450.51,262.94 L451.14,262.84 L451.76,262.73 L452.39,262.61 L453.02,262.48 L453.64,262.33 L454.27,262.16 L454.89,261.97 L455.52,261.77 L456.15,261.54 L456.77,261.28 L457.40,260.99 L458.02,260.68 L458.65,260.33 L459.28,259.94 L459.90,259.51 L460.53,259.03 L461.15,258.49 L461.78,257.91 L462.41,257.25 L463.03,256.53 L463.66,255.73 L464.28,254.85 L464.91,253.87 L465.54,252.79 L466.16,251.60 L466.79,250.28 L467.41,248.82 L468.04,247.22 L468.67,245.44 L469.29,243.49 L469.92,241.34 L470.54,238.96 L471.17,236.35 L471.80,233.48 L472.42,230.31 L473.05,226.83 L473.67,223.01 L474.30,218.80" transform="translate(0.17,0)"/></g>
<g stroke="#bc0a0a"><path d="M317.80,263.75 L325.62,263.75 L333.45,263.75 L341.28,263.75 L349.10,263.75 L356.93,263.75 L364.75,263.75 L372.58,263.75 L380.40,263.75 L388.23,263.75 L396.05,263.75 L403.88,263.75 L411.70,263.75 L419.53,263.75 L427.35,263.73 L427.98,263.73 L428.60,263.72 L429.23,263.72 L429.85,263.72 L430.48,263.71 L431.11,263.71 L431.73,263.70 L432.36,263.69 L432.98,263.68 L433.61,263.67 L434.24,263.66 L434.86,263.65 L435.49,263.64 L436.11,263.62 L436.74,263.60 L437.37,263.58 L437.99,263.56 L438.62,263.54 L439.24,263.51 L439.87,263.47 L440.50,263.44 L441.12,263.40 L441.75,263.35 L442.37,263.30 L443.00,263.24 L443.63,263.17 L444.25,263.10 L444.88,263.02 L445.50,262.93 L446.13,262.82 L446.76,262.71 L447.38,262.58 L448.01,262.43 L448.63,262.27 L449.26,262.10 L449.89,261.90 L450.51,261.67 L451.14,261.43 L451.76,261.15 L452.39,260.85 L453.02,260.51 L453.64,260.13 L454.27,259.72 L454.89,259.26 L455.52,258.75 L456.15,258.18 L456.77,257.56 L457.40,256.87 L458.02,256.11 L458.65,255.28 L459.28,254.35 L459.90,253.34 L460.53,252.22 L461.15,251.00 L461.78,249.65 L462.41,248.17 L463.03,246.55 L463.66,244.77 L464.28,242.83 L464.91,240.70 L465.54,238.37 L466.16,235.83 L466.79,233.05 L467.41,230.02 L468.04,226.72 L468.67,223.12 L469.29,219.21 L469.92,214.95 L470.54,210.32 L471.17,205.30 L471.80,199.85 L472.42,193.94 L473.05,187.53 L473.67,180.60 L474.30,173.10" transform="translate(-0.17,0)"/><path d="M317.80,263.75 L325.62,263.75 L333.45,263.75 L341.28,263.75 L349.10,263.75 L356.93,263.75 L364.75,263.75 L372.58,263.75 L380.40,263.75 L388.23,263.75 L396.05,263.75 L403.88,263.75 L411.70,263.75 L419.53,263.75 L427.35,263.73 L427.98,263.73 L428.60,263.72 L429.23,263.72 L429.85,263.72 L430.48,263.71 L431.11,263.71 L431.73,263.70 L432.36,263.69 L432.98,263.68 L433.61,263.67 L434.24,263.66 L434.86,263.65 L435.49,263.64 L436.11,263.62 L436.74,263.60 L437.37,263.58 L437.99,263.56 L438.62,263.54 L439.24,263.51 L439.87,263.47 L440.50,263.44 L441.12,263.40 L441.75,263.35 L442.37,263.30 L443.00,263.24 L443.63,263.17 L444.25,263.10 L444.88,263.02 L445.50,262.93 L446.13,262.82 L446.76,262.71 L447.38,262.58 L448.01,262.43 L448.63,262.27 L449.26,262.10 L449.89,261.90 L450.51,261.67 L451.14,261.43 L451.76,261.15 L452.39,260.85 L453.02,260.51 L453.64,260.13 L454.27,259.72 L454.89,259.26 L455.52,258.75 L456.15,258.18 L456.77,257.56 L457.40,256.87 L458.02,256.11 L458.65,255.28 L459.28,254.35 L459.90,253.34 L460.53,252.22 L461.15,251.00 L461.78,249.65 L462.41,248.17 L463.03,246.55 L463.66,244.77 L464.28,242.83 L464.91,240.70 L465.54,238.37 L466.16,235.83 L466.79,233.05 L467.41,230.02 L468.04,226.72 L468.67,223.12 L469.29,219.21 L469.92,214.95 L470.54,210.32 L471.17,205.30 L471.80,199.85 L472.42,193.94 L473.05,187.53 L473.67,180.60 L474.30,173.10" transform="translate(0.17,0)"/></g>
<g stroke="#06069e"><path d="M317.80,263.75 L325.62,263.75 L333.45,263.75 L341.28,263.75 L349.10,263.75 L356.93,263.75 L364.75,263.75 L372.58,263.75 L380.40,263.75 L388.23,263.75 L396.05,263.75 L403.88,263.75 L411.70,263.75 L419.53,263.75 L427.35,263.74 L427.98,263.74 L428.60,263.74 L429.23,263.73 L429.85,263.73 L430.48,263.73 L431.11,263.73 L431.73,263.72 L432.36,263.72 L432.98,263.71 L433.61,263.71 L434.24,263.70 L434.86,263.70 L435.49,263.69 L436.11,263.68 L436.74,263.67 L437.37,263.66 L437.99,263.64 L438.62,263.63 L439.24,263.61 L439.87,263.59 L440.50,263.57 L441.12,263.55 L441.75,263.52 L442.37,263.49 L443.00,263.45 L443.63,263.41 L444.25,263.37 L444.88,263.32 L445.50,263.26 L446.13,263.20 L446.76,263.13 L447.38,263.05 L448.01,262.96 L448.63,262.85 L449.26,262.74 L449.89,262.61 L450.51,262.47 L451.14,262.31 L451.76,262.13 L452.39,261.93 L453.02,261.70 L453.64,261.45 L454.27,261.18 L454.89,260.86 L455.52,260.52 L456.15,260.13 L456.77,259.70 L457.40,259.22 L458.02,258.69 L458.65,258.10 L459.28,257.45 L459.90,256.72 L460.53,255.92 L461.15,255.02 L461.78,254.04 L462.41,252.95 L463.03,251.74 L463.66,250.41 L464.28,248.94 L464.91,247.32 L465.54,245.53 L466.16,243.56 L466.79,241.39 L467.41,239.00 L468.04,236.38 L468.67,233.50 L469.29,230.34 L469.92,226.87 L470.54,223.06 L471.17,218.90 L471.80,214.33 L472.42,209.34 L473.05,203.88 L473.67,197.92 L474.30,191.41" transform="translate(-0.17,0)"/><path d="M317.80,263.75 L325.62,263.75 L333.45,263.75 L341.28,263.75 L349.10,263.75 L356.93,263.75 L364.75,263.75 L372.58,263.75 L380.40,263.75 L388.23,263.75 L396.05,263.75 L403.88,263.75 L411.70,263.75 L419.53,263.75 L427.35,263.74 L427.98,263.74 L428.60,263.74 L429.23,263.73 L429.85,263.73 L430.48,263.73 L431.11,263.73 L431.73,263.72 L432.36,263.72 L432.98,263.71 L433.61,263.71 L434.24,263.70 L434.86,263.70 L435.49,263.69 L436.11,263.68 L436.74,263.67 L437.37,263.66 L437.99,263.64 L438.62,263.63 L439.24,263.61 L439.87,263.59 L440.50,263.57 L441.12,263.55 L441.75,263.52 L442.37,263.49 L443.00,263.45 L443.63,263.41 L444.25,263.37 L444.88,263.32 L445.50,263.26 L446.13,263.20 L446.76,263.13 L447.38,263.05 L448.01,262.96 L448.63,262.85 L449.26,262.74 L449.89,262.61 L450.51,262.47 L451.14,262.31 L451.76,262.13 L452.39,261.93 L453.02,261.70 L453.64,261.45 L454.27,261.18 L454.89,260.86 L455.52,260.52 L456.15,260.13 L456.77,259.70 L457.40,259.22 L458.02,258.69 L458.65,258.10 L459.28,257.45 L459.90,256.72 L460.53,255.92 L461.15,255.02 L461.78,254.04 L462.41,252.95 L463.03,251.74 L463.66,250.41 L464.28,248.94 L464.91,247.32 L465.54,245.53 L466.16,243.56 L466.79,241.39 L467.41,239.00 L468.04,236.38 L468.67,233.50 L469.29,230.34 L469.92,226.87 L470.54,223.06 L471.17,218.90 L471.80,214.33 L472.42,209.34 L473.05,203.88 L473.67,197.92 L474.30,191.41" transform="translate(0.17,0)"/></g>
<g stroke="#0c8010"><path d="M317.80,263.75 L325.62,263.75 L333.45,263.75 L341.28,263.75 L349.10,263.75 L356.93,263.75 L364.75,263.75 L372.58,263.75 L380.40,263.75 L388.23,263.75 L396.05,263.75 L403.88,263.75 L411.70,263.75 L419.53,263.75 L427.35,263.74 L427.98,263.74 L428.60,263.74 L429.23,263.74 L429.85,263.73 L430.48,263.73 L431.11,263.73 L431.73,263.73 L432.36,263.72 L432.98,263.72 L433.61,263.72 L434.24,263.71 L434.86,263.71 L435.49,263.70 L436.11,263.70 L436.74,263.69 L437.37,263.68 L437.99,263.67 L438.62,263.66 L439.24,263.65 L439.87,263.64 L440.50,263.62 L441.12,263.61 L441.75,263.59 L442.37,263.57 L443.00,263.55 L443.63,263.52 L444.25,263.49 L444.88,263.46 L445.50,263.43 L446.13,263.39 L446.76,263.34 L447.38,263.29 L448.01,263.24 L448.63,263.18 L449.26,263.11 L449.89,263.03 L450.51,262.95 L451.14,262.85 L451.76,262.74 L452.39,262.63 L453.02,262.49 L453.64,262.35 L454.27,262.18 L454.89,262.00 L455.52,261.80 L456.15,261.57 L456.77,261.32 L457.40,261.04 L458.02,260.73 L458.65,260.39 L459.28,260.01 L459.90,259.58 L460.53,259.11 L461.15,258.59 L461.78,258.02 L462.41,257.38 L463.03,256.68 L463.66,255.89 L464.28,255.03 L464.91,254.08 L465.54,253.02 L466.16,251.85 L466.79,250.57 L467.41,249.14 L468.04,247.57 L468.67,245.84 L469.29,243.94 L469.92,241.83 L470.54,239.51 L471.17,236.96 L471.80,234.15 L472.42,231.06 L473.05,227.66 L473.67,223.92 L474.30,219.81" transform="translate(-0.17,0)"/><path d="M317.80,263.75 L325.62,263.75 L333.45,263.75 L341.28,263.75 L349.10,263.75 L356.93,263.75 L364.75,263.75 L372.58,263.75 L380.40,263.75 L388.23,263.75 L396.05,263.75 L403.88,263.75 L411.70,263.75 L419.53,263.75 L427.35,263.74 L427.98,263.74 L428.60,263.74 L429.23,263.74 L429.85,263.73 L430.48,263.73 L431.11,263.73 L431.73,263.73 L432.36,263.72 L432.98,263.72 L433.61,263.72 L434.24,263.71 L434.86,263.71 L435.49,263.70 L436.11,263.70 L436.74,263.69 L437.37,263.68 L437.99,263.67 L438.62,263.66 L439.24,263.65 L439.87,263.64 L440.50,263.62 L441.12,263.61 L441.75,263.59 L442.37,263.57 L443.00,263.55 L443.63,263.52 L444.25,263.49 L444.88,263.46 L445.50,263.43 L446.13,263.39 L446.76,263.34 L447.38,263.29 L448.01,263.24 L448.63,263.18 L449.26,263.11 L449.89,263.03 L450.51,262.95 L451.14,262.85 L451.76,262.74 L452.39,262.63 L453.02,262.49 L453.64,262.35 L454.27,262.18 L454.89,262.00 L455.52,261.80 L456.15,261.57 L456.77,261.32 L457.40,261.04 L458.02,260.73 L458.65,260.39 L459.28,260.01 L459.90,259.58 L460.53,259.11 L461.15,258.59 L461.78,258.02 L462.41,257.38 L463.03,256.68 L463.66,255.89 L464.28,255.03 L464.91,254.08 L465.54,253.02 L466.16,251.85 L466.79,250.57 L467.41,249.14 L468.04,247.57 L468.67,245.84 L469.29,243.94 L469.92,241.83 L470.54,239.51 L471.17,236.96 L471.80,234.15 L472.42,231.06 L473.05,227.66 L473.67,223.92 L474.30,219.81" transform="translate(0.17,0)"/></g>
<g stroke="#ff7030"><path d="M317.80,263.75 L325.62,263.75 L333.45,263.75 L341.28,263.75 L349.10,263.75 L356.93,263.75 L364.75,263.75 L372.58,263.75 L380.40,263.75 L388.23,263.75 L396.05,263.75 L403.88,263.75 L411.70,263.75 L419.53,263.75 L427.35,263.74 L427.98,263.74 L428.60,263.74 L429.23,263.74 L429.85,263.73 L430.48,263.73 L431.11,263.73 L431.73,263.73 L432.36,263.72 L432.98,263.72 L433.61,263.72 L434.24,263.71 L434.86,263.71 L435.49,263.70 L436.11,263.70 L436.74,263.69 L437.37,263.68 L437.99,263.67 L438.62,263.66 L439.24,263.65 L439.87,263.64 L440.50,263.62 L441.12,263.61 L441.75,263.59 L442.37,263.57 L443.00,263.54 L443.63,263.52 L444.25,263.49 L444.88,263.46 L445.50,263.42 L446.13,263.38 L446.76,263.33 L447.38,263.28 L448.01,263.22 L448.63,263.16 L449.26,263.09 L449.89,263.00 L450.51,262.92 L451.14,262.81 L451.76,262.70 L452.39,262.58 L453.02,262.44 L453.64,262.28 L454.27,262.11 L454.89,261.92 L455.52,261.70 L456.15,261.46 L456.77,261.20 L457.40,260.90 L458.02,260.57 L458.65,260.21 L459.28,259.81 L459.90,259.36 L460.53,258.86 L461.15,258.31 L461.78,257.70 L462.41,257.02 L463.03,256.27 L463.66,255.44 L464.28,254.52 L464.91,253.50 L465.54,252.38 L466.16,251.14 L466.79,249.76 L467.41,248.25 L468.04,246.58 L468.67,244.74 L469.29,242.70 L469.92,240.46 L470.54,238.00 L471.17,235.28 L471.80,232.29 L472.42,229.00 L473.05,225.38 L473.67,221.41 L474.30,217.04" transform="translate(-0.17,0)"/><path d="M317.80,263.75 L325.62,263.75 L333.45,263.75 L341.28,263.75 L349.10,263.75 L356.93,263.75 L364.75,263.75 L372.58,263.75 L380.40,263.75 L388.23,263.75 L396.05,263.75 L403.88,263.75 L411.70,263.75 L419.53,263.75 L427.35,263.74 L427.98,263.74 L428.60,263.74 L429.23,263.74 L429.85,263.73 L430.48,263.73 L431.11,263.73 L431.73,263.73 L432.36,263.72 L432.98,263.72 L433.61,263.72 L434.24,263.71 L434.86,263.71 L435.49,263.70 L436.11,263.70 L436.74,263.69 L437.37,263.68 L437.99,263.67 L438.62,263.66 L439.24,263.65 L439.87,263.64 L440.50,263.62 L441.12,263.61 L441.75,263.59 L442.37,263.57 L443.00,263.54 L443.63,263.52 L444.25,263.49 L444.88,263.46 L445.50,263.42 L446.13,263.38 L446.76,263.33 L447.38,263.28 L448.01,263.22 L448.63,263.16 L449.26,263.09 L449.89,263.00 L450.51,262.92 L451.14,262.81 L451.76,262.70 L452.39,262.58 L453.02,262.44 L453.64,262.28 L454.27,262.11 L454.89,261.92 L455.52,261.70 L456.15,261.46 L456.77,261.20 L457.40,260.90 L458.02,260.57 L458.65,260.21 L459.28,259.81 L459.90,259.36 L460.53,258.86 L461.15,258.31 L461.78,257.70 L462.41,257.02 L463.03,256.27 L463.66,255.44 L464.28,254.52 L464.91,253.50 L465.54,252.38 L466.16,251.14 L466.79,249.76 L467.41,248.25 L468.04,246.58 L468.67,244.74 L469.29,242.70 L469.92,240.46 L470.54,238.00 L471.17,235.28 L471.80,232.29 L472.42,229.00 L473.05,225.38 L473.67,221.41 L474.30,217.04" transform="translate(0.17,0)"/></g>
<g stroke="#ff1290" stroke-dasharray="2.5 2.5"><path d="M317.80,263.75 L325.62,263.75 L333.45,263.75 L341.28,263.75 L349.10,263.75 L356.93,263.75 L364.75,263.75 L372.58,263.75 L380.40,263.75 L388.23,263.75 L396.05,263.75 L403.88,263.75 L411.70,263.75 L419.53,263.75 L427.35,263.74 L427.98,263.74 L428.60,263.74 L429.23,263.74 L429.85,263.73 L430.48,263.73 L431.11,263.73 L431.73,263.73 L432.36,263.72 L432.98,263.72 L433.61,263.72 L434.24,263.71 L434.86,263.71 L435.49,263.70 L436.11,263.70 L436.74,263.69 L437.37,263.68 L437.99,263.67 L438.62,263.66 L439.24,263.65 L439.87,263.64 L440.50,263.62 L441.12,263.60 L441.75,263.59 L442.37,263.56 L443.00,263.54 L443.63,263.51 L444.25,263.48 L444.88,263.45 L445.50,263.41 L446.13,263.37 L446.76,263.32 L447.38,263.27 L448.01,263.21 L448.63,263.14 L449.26,263.07 L449.89,262.98 L450.51,262.89 L451.14,262.79 L451.76,262.67 L452.39,262.54 L453.02,262.39 L453.64,262.23 L454.27,262.05 L454.89,261.85 L455.52,261.62 L456.15,261.37 L456.77,261.09 L457.40,260.78 L458.02,260.44 L458.65,260.06 L459.28,259.63 L459.90,259.16 L460.53,258.63 L461.15,258.05 L461.78,257.41 L462.41,256.69 L463.03,255.90 L463.66,255.03 L464.28,254.06 L464.91,252.99 L465.54,251.80 L466.16,250.49 L466.79,249.04 L467.41,247.44 L468.04,245.68 L468.67,243.73 L469.29,241.59 L469.92,239.23 L470.54,236.62 L471.17,233.75 L471.80,230.60 L472.42,227.13 L473.05,223.31 L473.67,219.12 L474.30,214.51" transform="translate(-0.17,0)"/><path d="M317.80,263.75 L325.62,263.75 L333.45,263.75 L341.28,263.75 L349.10,263.75 L356.93,263.75 L364.75,263.75 L372.58,263.75 L380.40,263.75 L388.23,263.75 L396.05,263.75 L403.88,263.75 L411.70,263.75 L419.53,263.75 L427.35,263.74 L427.98,263.74 L428.60,263.74 L429.23,263.74 L429.85,263.73 L430.48,263.73 L431.11,263.73 L431.73,263.73 L432.36,263.72 L432.98,263.72 L433.61,263.72 L434.24,263.71 L434.86,263.71 L435.49,263.70 L436.11,263.70 L436.74,263.69 L437.37,263.68 L437.99,263.67 L438.62,263.66 L439.24,263.65 L439.87,263.64 L440.50,263.62 L441.12,263.60 L441.75,263.59 L442.37,263.56 L443.00,263.54 L443.63,263.51 L444.25,263.48 L444.88,263.45 L445.50,263.41 L446.13,263.37 L446.76,263.32 L447.38,263.27 L448.01,263.21 L448.63,263.14 L449.26,263.07 L449.89,262.98 L450.51,262.89 L451.14,262.79 L451.76,262.67 L452.39,262.54 L453.02,262.39 L453.64,262.23 L454.27,262.05 L454.89,261.85 L455.52,261.62 L456.15,261.37 L456.77,261.09 L457.40,260.78 L458.02,260.44 L458.65,260.06 L459.28,259.63 L459.90,259.16 L460.53,258.63 L461.15,258.05 L461.78,257.41 L462.41,256.69 L463.03,255.90 L463.66,255.03 L464.28,254.06 L464.91,252.99 L465.54,251.80 L466.16,250.49 L466.79,249.04 L467.41,247.44 L468.04,245.68 L468.67,243.73 L469.29,241.59 L469.92,239.23 L470.54,236.62 L471.17,233.75 L471.80,230.60 L472.42,227.13 L473.05,223.31 L473.67,219.12 L474.30,214.51" transform="translate(0.17,0)"/></g>
</g>
<g stroke="#8a8a8a" stroke-width="0.65" fill="none">
<rect x="314.6" y="168.5" width="163.09999999999997" height="99.89999999999998"/>
<path d="M317.80,268.4v-2.4M317.80,168.5v2.4M325.62,268.4v-1.4M325.62,168.5v1.4M333.45,268.4v-1.4M333.45,168.5v1.4M341.28,268.4v-1.4M341.28,168.5v1.4M349.10,268.4v-2.4M349.10,168.5v2.4M356.93,268.4v-1.4M356.93,168.5v1.4M364.75,268.4v-1.4M364.75,168.5v1.4M372.58,268.4v-1.4M372.58,168.5v1.4M380.40,268.4v-2.4M380.40,168.5v2.4M388.23,268.4v-1.4M388.23,168.5v1.4M396.05,268.4v-1.4M396.05,168.5v1.4M403.88,268.4v-1.4M403.88,168.5v1.4M411.70,268.4v-2.4M411.70,168.5v2.4M419.53,268.4v-1.4M419.53,168.5v1.4M427.35,268.4v-1.4M427.35,168.5v1.4M435.18,268.4v-1.4M435.18,168.5v1.4M443.00,268.4v-2.4M443.00,168.5v2.4M450.83,268.4v-1.4M450.83,168.5v1.4M458.65,268.4v-1.4M458.65,168.5v1.4M466.48,268.4v-1.4M466.48,168.5v1.4M474.30,268.4v-2.4M474.30,168.5v2.4M314.6,266.27h1.4M477.7,266.27h-1.4M314.6,263.75h2.4M477.7,263.75h-2.4M314.6,261.23h1.4M477.7,261.23h-1.4M314.6,258.70h1.4M477.7,258.70h-1.4M314.6,256.18h1.4M477.7,256.18h-1.4M314.6,253.65h1.4M477.7,253.65h-1.4M314.6,251.12h2.4M477.7,251.12h-2.4M314.6,248.60h1.4M477.7,248.60h-1.4M314.6,246.07h1.4M477.7,246.07h-1.4M314.6,243.55h1.4M477.7,243.55h-1.4M314.6,241.03h1.4M477.7,241.03h-1.4M314.6,238.50h2.4M477.7,238.50h-2.4M314.6,235.97h1.4M477.7,235.97h-1.4M314.6,233.45h1.4M477.7,233.45h-1.4M314.6,230.93h1.4M477.7,230.93h-1.4M314.6,228.40h1.4M477.7,228.40h-1.4M314.6,225.88h2.4M477.7,225.88h-2.4M314.6,223.35h1.4M477.7,223.35h-1.4M314.6,220.82h1.4M477.7,220.82h-1.4M314.6,218.30h1.4M477.7,218.30h-1.4M314.6,215.78h1.4M477.7,215.78h-1.4M314.6,213.25h2.4M477.7,213.25h-2.4M314.6,210.72h1.4M477.7,210.72h-1.4M314.6,208.20h1.4M477.7,208.20h-1.4M314.6,205.67h1.4M477.7,205.67h-1.4M314.6,203.15h1.4M477.7,203.15h-1.4M314.6,200.62h2.4M477.7,200.62h-2.4M314.6,198.10h1.4M477.7,198.10h-1.4M314.6,195.57h1.4M477.7,195.57h-1.4M314.6,193.05h1.4M477.7,193.05h-1.4M314.6,190.52h1.4M477.7,190.52h-1.4M314.6,188.00h2.4M477.7,188.00h-2.4M314.6,185.47h1.4M477.7,185.47h-1.4M314.6,182.95h1.4M477.7,182.95h-1.4M314.6,180.43h1.4M477.7,180.43h-1.4M314.6,177.90h1.4M477.7,177.90h-1.4M314.6,175.38h2.4M477.7,175.38h-2.4M314.6,172.85h1.4M477.7,172.85h-1.4M314.6,170.32h1.4M477.7,170.32h-1.4" stroke="#555" stroke-width="0.55"/>
</g>
<g font-family="Liberation Sans, sans-serif" font-size="8.3" fill="#3a3a3a" text-anchor="middle">
<text x="317.6" y="276.9" textLength="9.4" lengthAdjust="spacingAndGlyphs">0.0</text>
<text x="348.9" y="276.9" textLength="9.4" lengthAdjust="spacingAndGlyphs">0.2</text>
<text x="380.2" y="276.9" textLength="9.4" lengthAdjust="spacingAndGlyphs">0.4</text>
<text x="411.5" y="276.9" textLength="9.4" lengthAdjust="spacingAndGlyphs">0.6</text>
<text x="442.8" y="276.9" textLength="9.4" lengthAdjust="spacingAndGlyphs">0.8</text>
<text x="473.4" y="276.9" textLength="9.4" lengthAdjust="spacingAndGlyphs">1.0</text>
</g>
<g font-family="Liberation Sans, sans-serif" font-size="8.3" fill="#3a3a3a" text-anchor="end">
<text x="313.3" y="266.6" textLength="9.8" lengthAdjust="spacingAndGlyphs">0.0</text>
<text x="313.3" y="254.0" textLength="9.8" lengthAdjust="spacingAndGlyphs">0.5</text>
<text x="313.3" y="241.4" textLength="9.8" lengthAdjust="spacingAndGlyphs">1.0</text>
<text x="313.3" y="228.8" textLength="9.8" lengthAdjust="spacingAndGlyphs">1.5</text>
<text x="313.3" y="216.2" textLength="9.8" lengthAdjust="spacingAndGlyphs">2.0</text>
<text x="313.3" y="203.5" textLength="9.8" lengthAdjust="spacingAndGlyphs">2.5</text>
<text x="313.3" y="190.9" textLength="9.8" lengthAdjust="spacingAndGlyphs">3.0</text>
<text x="313.3" y="178.3" textLength="9.8" lengthAdjust="spacingAndGlyphs">3.5</text>
</g>
</svg>
</body></html>
